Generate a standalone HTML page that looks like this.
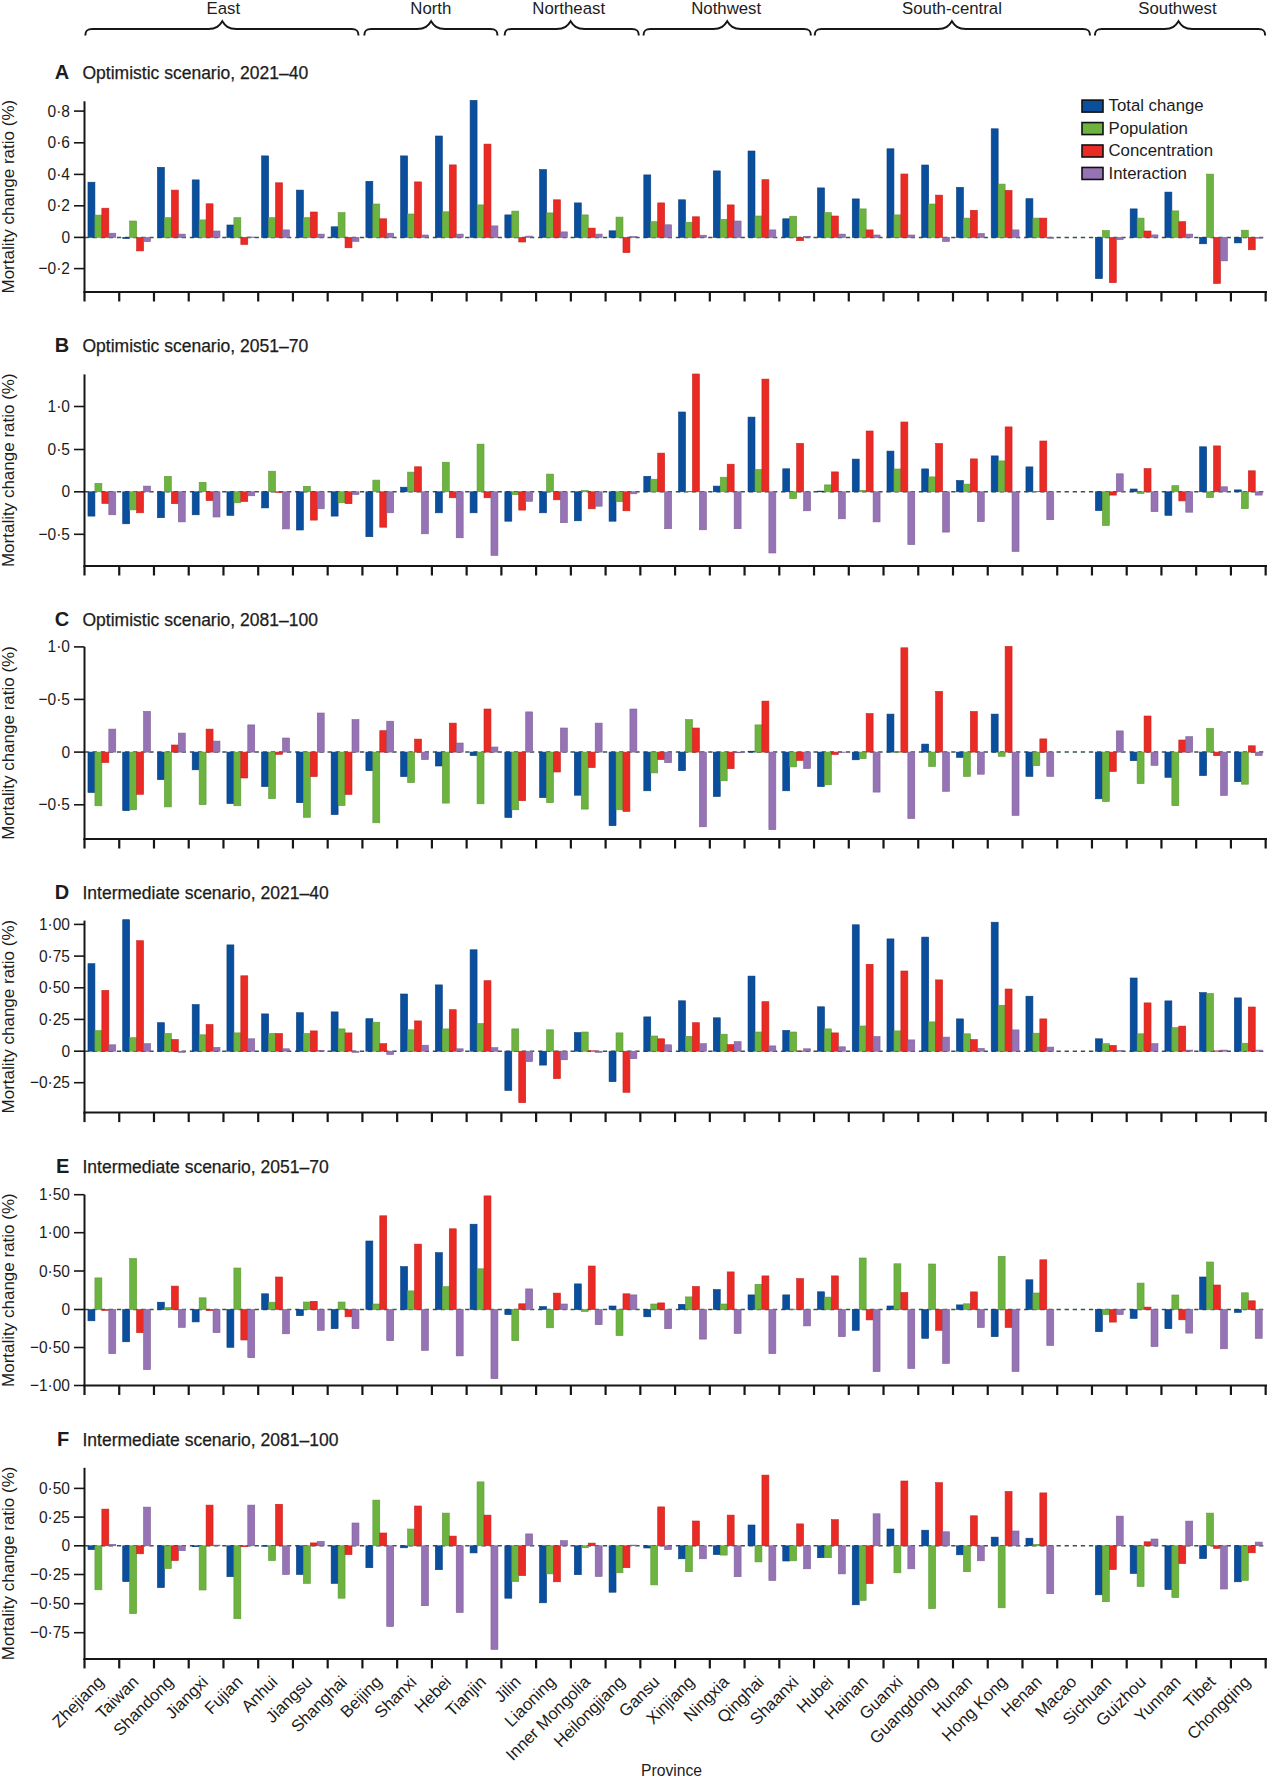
<!DOCTYPE html><html><head><meta charset="utf-8"><title>Mortality change ratio</title>
<style>html,body{margin:0;padding:0;background:#fff;width:1267px;height:1777px;overflow:hidden}svg{display:block}text{font-family:"Liberation Sans", sans-serif;fill:#1c1c1c}</style></head><body>
<svg width="1267" height="1777" viewBox="0 0 1267 1777">
<rect x="0" y="0" width="1267" height="1777" fill="#fff"/>
<path d="M85.3,35.5 C85.3,30.5 87.3,29 92.3,29 L208.3,29 C216.3,29 219.3,26 222.3,21.2 C225.3,26 228.3,29 236.3,29 L351.5,29 C356.5,29 358.5,30.5 358.5,35.5" fill="none" stroke="#161616" stroke-width="2"/>
<text x="223.3" y="14" font-size="16.8" text-anchor="middle">East</text>
<path d="M364.3,35.5 C364.3,30.5 366.3,29 371.3,29 L417.1,29 C425.1,29 428.1,26 431.1,21.2 C434.1,26 437.1,29 445.1,29 L490.5,29 C495.5,29 497.5,30.5 497.5,35.5" fill="none" stroke="#161616" stroke-width="2"/>
<text x="430.8" y="14" font-size="16.8" text-anchor="middle">North</text>
<path d="M504.6,35.5 C504.6,30.5 506.6,29 511.6,29 L556.6,29 C564.6,29 567.6,26 570.6,21.2 C573.6,26 576.6,29 584.6,29 L631.8,29 C636.8,29 638.8,30.5 638.8,35.5" fill="none" stroke="#161616" stroke-width="2"/>
<text x="568.7" y="14" font-size="16.8" text-anchor="middle">Northeast</text>
<path d="M643.5,35.5 C643.5,30.5 645.5,29 650.5,29 L713.2,29 C721.2,29 724.2,26 727.2,21.2 C730.2,26 733.2,29 741.2,29 L803.9,29 C808.9,29 810.9,30.5 810.9,35.5" fill="none" stroke="#161616" stroke-width="2"/>
<text x="726.2" y="14" font-size="16.8" text-anchor="middle">Nothwest</text>
<path d="M814.7,35.5 C814.7,30.5 816.7,29 821.7,29 L937.9,29 C945.9,29 948.9,26 951.9,21.2 C954.9,26 957.9,29 965.9,29 L1083,29 C1088,29 1090,30.5 1090,35.5" fill="none" stroke="#161616" stroke-width="2"/>
<text x="952" y="14" font-size="16.8" text-anchor="middle">South-central</text>
<path d="M1094.9,35.5 C1094.9,30.5 1096.9,29 1101.9,29 L1164.5,29 C1172.5,29 1175.5,26 1178.5,21.2 C1181.5,26 1184.5,29 1192.5,29 L1258.2,29 C1263.2,29 1265.2,30.5 1265.2,35.5" fill="none" stroke="#161616" stroke-width="2"/>
<text x="1177.5" y="14" font-size="16.8" text-anchor="middle">Southwest</text>
<text x="69.3" y="79" font-size="20" font-weight="bold" text-anchor="end">A</text>
<text x="82.5" y="79" font-size="17.5" stroke="#1c1c1c" stroke-width="0.25">Optimistic scenario, 2021–40</text>
<text transform="translate(14,196.65) rotate(-90)" font-size="17" text-anchor="middle">Mortality change ratio (%)</text>
<line x1="84.5" y1="237.4" x2="1265" y2="237.4" stroke="#3f5052" stroke-width="1.5" stroke-dasharray="4.3 3.8"/>
<rect x="87.97" y="182.2" width="6.95" height="55.2" fill="#0a4f9e" stroke="#073d7c" stroke-width="0.6"/>
<rect x="94.92" y="215.1" width="6.95" height="22.3" fill="#6cb33f" stroke="#5c9a36" stroke-width="0.6"/>
<rect x="101.87" y="208.2" width="6.95" height="29.2" fill="#ea2a24" stroke="#c9221d" stroke-width="0.6"/>
<rect x="108.82" y="233.2" width="6.95" height="4.2" fill="#9673b5" stroke="#7d6196" stroke-width="0.6"/>
<rect x="122.71" y="237.4" width="6.95" height="1.1" fill="#0a4f9e" stroke="#073d7c" stroke-width="0.6"/>
<rect x="129.66" y="221" width="6.95" height="16.4" fill="#6cb33f" stroke="#5c9a36" stroke-width="0.6"/>
<rect x="136.61" y="237.4" width="6.95" height="13.5" fill="#ea2a24" stroke="#c9221d" stroke-width="0.6"/>
<rect x="143.56" y="237.4" width="6.95" height="4.2" fill="#9673b5" stroke="#7d6196" stroke-width="0.6"/>
<rect x="157.45" y="167.3" width="6.95" height="70.1" fill="#0a4f9e" stroke="#073d7c" stroke-width="0.6"/>
<rect x="164.4" y="217.7" width="6.95" height="19.7" fill="#6cb33f" stroke="#5c9a36" stroke-width="0.6"/>
<rect x="171.35" y="190.1" width="6.95" height="47.3" fill="#ea2a24" stroke="#c9221d" stroke-width="0.6"/>
<rect x="178.3" y="234.1" width="6.95" height="3.3" fill="#9673b5" stroke="#7d6196" stroke-width="0.6"/>
<rect x="192.19" y="179.9" width="6.95" height="57.5" fill="#0a4f9e" stroke="#073d7c" stroke-width="0.6"/>
<rect x="199.14" y="219.9" width="6.95" height="17.5" fill="#6cb33f" stroke="#5c9a36" stroke-width="0.6"/>
<rect x="206.09" y="203.8" width="6.95" height="33.6" fill="#ea2a24" stroke="#c9221d" stroke-width="0.6"/>
<rect x="213.04" y="231" width="6.95" height="6.4" fill="#9673b5" stroke="#7d6196" stroke-width="0.6"/>
<rect x="226.93" y="225" width="6.95" height="12.4" fill="#0a4f9e" stroke="#073d7c" stroke-width="0.6"/>
<rect x="233.88" y="217.7" width="6.95" height="19.7" fill="#6cb33f" stroke="#5c9a36" stroke-width="0.6"/>
<rect x="240.83" y="237.4" width="6.95" height="7.1" fill="#ea2a24" stroke="#c9221d" stroke-width="0.6"/>
<rect x="247.78" y="237" width="6.95" height="0.4" fill="#9673b5" stroke="#7d6196" stroke-width="0.6"/>
<rect x="261.67" y="155.9" width="6.95" height="81.5" fill="#0a4f9e" stroke="#073d7c" stroke-width="0.6"/>
<rect x="268.62" y="217.7" width="6.95" height="19.7" fill="#6cb33f" stroke="#5c9a36" stroke-width="0.6"/>
<rect x="275.57" y="182.8" width="6.95" height="54.6" fill="#ea2a24" stroke="#c9221d" stroke-width="0.6"/>
<rect x="282.52" y="229.9" width="6.95" height="7.5" fill="#9673b5" stroke="#7d6196" stroke-width="0.6"/>
<rect x="296.41" y="190.1" width="6.95" height="47.3" fill="#0a4f9e" stroke="#073d7c" stroke-width="0.6"/>
<rect x="303.36" y="217.7" width="6.95" height="19.7" fill="#6cb33f" stroke="#5c9a36" stroke-width="0.6"/>
<rect x="310.31" y="212" width="6.95" height="25.4" fill="#ea2a24" stroke="#c9221d" stroke-width="0.6"/>
<rect x="317.26" y="234.1" width="6.95" height="3.3" fill="#9673b5" stroke="#7d6196" stroke-width="0.6"/>
<rect x="331.15" y="226.8" width="6.95" height="10.6" fill="#0a4f9e" stroke="#073d7c" stroke-width="0.6"/>
<rect x="338.1" y="212.6" width="6.95" height="24.8" fill="#6cb33f" stroke="#5c9a36" stroke-width="0.6"/>
<rect x="345.05" y="237.4" width="6.95" height="10.4" fill="#ea2a24" stroke="#c9221d" stroke-width="0.6"/>
<rect x="352" y="237.4" width="6.95" height="4" fill="#9673b5" stroke="#7d6196" stroke-width="0.6"/>
<rect x="365.89" y="181.3" width="6.95" height="56.1" fill="#0a4f9e" stroke="#073d7c" stroke-width="0.6"/>
<rect x="372.84" y="204" width="6.95" height="33.4" fill="#6cb33f" stroke="#5c9a36" stroke-width="0.6"/>
<rect x="379.79" y="218.8" width="6.95" height="18.6" fill="#ea2a24" stroke="#c9221d" stroke-width="0.6"/>
<rect x="386.74" y="233.2" width="6.95" height="4.2" fill="#9673b5" stroke="#7d6196" stroke-width="0.6"/>
<rect x="400.63" y="155.9" width="6.95" height="81.5" fill="#0a4f9e" stroke="#073d7c" stroke-width="0.6"/>
<rect x="407.58" y="214" width="6.95" height="23.4" fill="#6cb33f" stroke="#5c9a36" stroke-width="0.6"/>
<rect x="414.53" y="181.9" width="6.95" height="55.5" fill="#ea2a24" stroke="#c9221d" stroke-width="0.6"/>
<rect x="421.48" y="235" width="6.95" height="2.4" fill="#9673b5" stroke="#7d6196" stroke-width="0.6"/>
<rect x="435.37" y="136" width="6.95" height="101.4" fill="#0a4f9e" stroke="#073d7c" stroke-width="0.6"/>
<rect x="442.32" y="211.8" width="6.95" height="25.6" fill="#6cb33f" stroke="#5c9a36" stroke-width="0.6"/>
<rect x="449.27" y="164.9" width="6.95" height="72.5" fill="#ea2a24" stroke="#c9221d" stroke-width="0.6"/>
<rect x="456.22" y="234.1" width="6.95" height="3.3" fill="#9673b5" stroke="#7d6196" stroke-width="0.6"/>
<rect x="470.11" y="100.4" width="6.95" height="137" fill="#0a4f9e" stroke="#073d7c" stroke-width="0.6"/>
<rect x="477.06" y="204.9" width="6.95" height="32.5" fill="#6cb33f" stroke="#5c9a36" stroke-width="0.6"/>
<rect x="484.01" y="144.1" width="6.95" height="93.3" fill="#ea2a24" stroke="#c9221d" stroke-width="0.6"/>
<rect x="490.96" y="225.9" width="6.95" height="11.5" fill="#9673b5" stroke="#7d6196" stroke-width="0.6"/>
<rect x="504.85" y="214.9" width="6.95" height="22.5" fill="#0a4f9e" stroke="#073d7c" stroke-width="0.6"/>
<rect x="511.8" y="211.1" width="6.95" height="26.3" fill="#6cb33f" stroke="#5c9a36" stroke-width="0.6"/>
<rect x="518.75" y="237.4" width="6.95" height="4.6" fill="#ea2a24" stroke="#c9221d" stroke-width="0.6"/>
<rect x="525.7" y="236.1" width="6.95" height="1.3" fill="#9673b5" stroke="#7d6196" stroke-width="0.6"/>
<rect x="539.59" y="169.6" width="6.95" height="67.8" fill="#0a4f9e" stroke="#073d7c" stroke-width="0.6"/>
<rect x="546.54" y="212.9" width="6.95" height="24.5" fill="#6cb33f" stroke="#5c9a36" stroke-width="0.6"/>
<rect x="553.49" y="199.8" width="6.95" height="37.6" fill="#ea2a24" stroke="#c9221d" stroke-width="0.6"/>
<rect x="560.44" y="231.9" width="6.95" height="5.5" fill="#9673b5" stroke="#7d6196" stroke-width="0.6"/>
<rect x="574.33" y="202.9" width="6.95" height="34.5" fill="#0a4f9e" stroke="#073d7c" stroke-width="0.6"/>
<rect x="581.28" y="214.9" width="6.95" height="22.5" fill="#6cb33f" stroke="#5c9a36" stroke-width="0.6"/>
<rect x="588.23" y="228.1" width="6.95" height="9.3" fill="#ea2a24" stroke="#c9221d" stroke-width="0.6"/>
<rect x="595.18" y="234.1" width="6.95" height="3.3" fill="#9673b5" stroke="#7d6196" stroke-width="0.6"/>
<rect x="609.07" y="230.8" width="6.95" height="6.6" fill="#0a4f9e" stroke="#073d7c" stroke-width="0.6"/>
<rect x="616.02" y="217.1" width="6.95" height="20.3" fill="#6cb33f" stroke="#5c9a36" stroke-width="0.6"/>
<rect x="622.97" y="237.4" width="6.95" height="15.2" fill="#ea2a24" stroke="#c9221d" stroke-width="0.6"/>
<rect x="629.92" y="236.5" width="6.95" height="0.9" fill="#9673b5" stroke="#7d6196" stroke-width="0.6"/>
<rect x="643.81" y="174.9" width="6.95" height="62.5" fill="#0a4f9e" stroke="#073d7c" stroke-width="0.6"/>
<rect x="650.76" y="221.7" width="6.95" height="15.7" fill="#6cb33f" stroke="#5c9a36" stroke-width="0.6"/>
<rect x="657.71" y="202.9" width="6.95" height="34.5" fill="#ea2a24" stroke="#c9221d" stroke-width="0.6"/>
<rect x="664.66" y="224.8" width="6.95" height="12.6" fill="#9673b5" stroke="#7d6196" stroke-width="0.6"/>
<rect x="678.55" y="199.8" width="6.95" height="37.6" fill="#0a4f9e" stroke="#073d7c" stroke-width="0.6"/>
<rect x="685.5" y="222.2" width="6.95" height="15.2" fill="#6cb33f" stroke="#5c9a36" stroke-width="0.6"/>
<rect x="692.45" y="216.8" width="6.95" height="20.6" fill="#ea2a24" stroke="#c9221d" stroke-width="0.6"/>
<rect x="699.4" y="235.2" width="6.95" height="2.2" fill="#9673b5" stroke="#7d6196" stroke-width="0.6"/>
<rect x="713.29" y="170.9" width="6.95" height="66.5" fill="#0a4f9e" stroke="#073d7c" stroke-width="0.6"/>
<rect x="720.24" y="219.3" width="6.95" height="18.1" fill="#6cb33f" stroke="#5c9a36" stroke-width="0.6"/>
<rect x="727.19" y="204.9" width="6.95" height="32.5" fill="#ea2a24" stroke="#c9221d" stroke-width="0.6"/>
<rect x="734.14" y="221" width="6.95" height="16.4" fill="#9673b5" stroke="#7d6196" stroke-width="0.6"/>
<rect x="748.03" y="151" width="6.95" height="86.4" fill="#0a4f9e" stroke="#073d7c" stroke-width="0.6"/>
<rect x="754.98" y="216" width="6.95" height="21.4" fill="#6cb33f" stroke="#5c9a36" stroke-width="0.6"/>
<rect x="761.93" y="179.7" width="6.95" height="57.7" fill="#ea2a24" stroke="#c9221d" stroke-width="0.6"/>
<rect x="768.88" y="229.9" width="6.95" height="7.5" fill="#9673b5" stroke="#7d6196" stroke-width="0.6"/>
<rect x="782.77" y="218.8" width="6.95" height="18.6" fill="#0a4f9e" stroke="#073d7c" stroke-width="0.6"/>
<rect x="789.72" y="216.2" width="6.95" height="21.2" fill="#6cb33f" stroke="#5c9a36" stroke-width="0.6"/>
<rect x="796.67" y="237.4" width="6.95" height="3.3" fill="#ea2a24" stroke="#c9221d" stroke-width="0.6"/>
<rect x="803.62" y="236.3" width="6.95" height="1.1" fill="#9673b5" stroke="#7d6196" stroke-width="0.6"/>
<rect x="817.51" y="187.9" width="6.95" height="49.5" fill="#0a4f9e" stroke="#073d7c" stroke-width="0.6"/>
<rect x="824.46" y="212.6" width="6.95" height="24.8" fill="#6cb33f" stroke="#5c9a36" stroke-width="0.6"/>
<rect x="831.41" y="216" width="6.95" height="21.4" fill="#ea2a24" stroke="#c9221d" stroke-width="0.6"/>
<rect x="838.36" y="234.1" width="6.95" height="3.3" fill="#9673b5" stroke="#7d6196" stroke-width="0.6"/>
<rect x="852.25" y="198.9" width="6.95" height="38.5" fill="#0a4f9e" stroke="#073d7c" stroke-width="0.6"/>
<rect x="859.2" y="208.9" width="6.95" height="28.5" fill="#6cb33f" stroke="#5c9a36" stroke-width="0.6"/>
<rect x="866.15" y="229.9" width="6.95" height="7.5" fill="#ea2a24" stroke="#c9221d" stroke-width="0.6"/>
<rect x="873.1" y="235" width="6.95" height="2.4" fill="#9673b5" stroke="#7d6196" stroke-width="0.6"/>
<rect x="886.99" y="148.8" width="6.95" height="88.6" fill="#0a4f9e" stroke="#073d7c" stroke-width="0.6"/>
<rect x="893.94" y="214.9" width="6.95" height="22.5" fill="#6cb33f" stroke="#5c9a36" stroke-width="0.6"/>
<rect x="900.89" y="174" width="6.95" height="63.4" fill="#ea2a24" stroke="#c9221d" stroke-width="0.6"/>
<rect x="907.84" y="235" width="6.95" height="2.4" fill="#9673b5" stroke="#7d6196" stroke-width="0.6"/>
<rect x="921.73" y="165" width="6.95" height="72.4" fill="#0a4f9e" stroke="#073d7c" stroke-width="0.6"/>
<rect x="928.68" y="204" width="6.95" height="33.4" fill="#6cb33f" stroke="#5c9a36" stroke-width="0.6"/>
<rect x="935.63" y="195.1" width="6.95" height="42.3" fill="#ea2a24" stroke="#c9221d" stroke-width="0.6"/>
<rect x="942.58" y="237.4" width="6.95" height="4.1" fill="#9673b5" stroke="#7d6196" stroke-width="0.6"/>
<rect x="956.47" y="187.4" width="6.95" height="50" fill="#0a4f9e" stroke="#073d7c" stroke-width="0.6"/>
<rect x="963.42" y="218.1" width="6.95" height="19.3" fill="#6cb33f" stroke="#5c9a36" stroke-width="0.6"/>
<rect x="970.37" y="210.3" width="6.95" height="27.1" fill="#ea2a24" stroke="#c9221d" stroke-width="0.6"/>
<rect x="977.32" y="233.5" width="6.95" height="3.9" fill="#9673b5" stroke="#7d6196" stroke-width="0.6"/>
<rect x="991.21" y="128.8" width="6.95" height="108.6" fill="#0a4f9e" stroke="#073d7c" stroke-width="0.6"/>
<rect x="998.16" y="184.1" width="6.95" height="53.3" fill="#6cb33f" stroke="#5c9a36" stroke-width="0.6"/>
<rect x="1005.11" y="190.4" width="6.95" height="47" fill="#ea2a24" stroke="#c9221d" stroke-width="0.6"/>
<rect x="1012.06" y="229.9" width="6.95" height="7.5" fill="#9673b5" stroke="#7d6196" stroke-width="0.6"/>
<rect x="1025.95" y="198.7" width="6.95" height="38.7" fill="#0a4f9e" stroke="#073d7c" stroke-width="0.6"/>
<rect x="1032.9" y="218.1" width="6.95" height="19.3" fill="#6cb33f" stroke="#5c9a36" stroke-width="0.6"/>
<rect x="1039.85" y="218.1" width="6.95" height="19.3" fill="#ea2a24" stroke="#c9221d" stroke-width="0.6"/>
<rect x="1046.8" y="237.4" width="6.95" height="0.8" fill="#9673b5" stroke="#7d6196" stroke-width="0.6"/>
<rect x="1095.43" y="237.4" width="6.95" height="41.2" fill="#0a4f9e" stroke="#073d7c" stroke-width="0.6"/>
<rect x="1102.38" y="230.5" width="6.95" height="6.9" fill="#6cb33f" stroke="#5c9a36" stroke-width="0.6"/>
<rect x="1109.33" y="237.4" width="6.95" height="45.3" fill="#ea2a24" stroke="#c9221d" stroke-width="0.6"/>
<rect x="1116.28" y="237.4" width="6.95" height="2.2" fill="#9673b5" stroke="#7d6196" stroke-width="0.6"/>
<rect x="1130.17" y="208.9" width="6.95" height="28.5" fill="#0a4f9e" stroke="#073d7c" stroke-width="0.6"/>
<rect x="1137.12" y="218.1" width="6.95" height="19.3" fill="#6cb33f" stroke="#5c9a36" stroke-width="0.6"/>
<rect x="1144.07" y="231" width="6.95" height="6.4" fill="#ea2a24" stroke="#c9221d" stroke-width="0.6"/>
<rect x="1151.02" y="234.9" width="6.95" height="2.5" fill="#9673b5" stroke="#7d6196" stroke-width="0.6"/>
<rect x="1164.91" y="192.1" width="6.95" height="45.3" fill="#0a4f9e" stroke="#073d7c" stroke-width="0.6"/>
<rect x="1171.86" y="210.9" width="6.95" height="26.5" fill="#6cb33f" stroke="#5c9a36" stroke-width="0.6"/>
<rect x="1178.81" y="221.7" width="6.95" height="15.7" fill="#ea2a24" stroke="#c9221d" stroke-width="0.6"/>
<rect x="1185.76" y="234.1" width="6.95" height="3.3" fill="#9673b5" stroke="#7d6196" stroke-width="0.6"/>
<rect x="1199.65" y="237.4" width="6.95" height="6.4" fill="#0a4f9e" stroke="#073d7c" stroke-width="0.6"/>
<rect x="1206.6" y="174.1" width="6.95" height="63.3" fill="#6cb33f" stroke="#5c9a36" stroke-width="0.6"/>
<rect x="1213.55" y="237.4" width="6.95" height="46.1" fill="#ea2a24" stroke="#c9221d" stroke-width="0.6"/>
<rect x="1220.5" y="237.4" width="6.95" height="23.5" fill="#9673b5" stroke="#7d6196" stroke-width="0.6"/>
<rect x="1234.39" y="237.4" width="6.95" height="5.5" fill="#0a4f9e" stroke="#073d7c" stroke-width="0.6"/>
<rect x="1241.34" y="230.2" width="6.95" height="7.2" fill="#6cb33f" stroke="#5c9a36" stroke-width="0.6"/>
<rect x="1248.29" y="237.4" width="6.95" height="12.4" fill="#ea2a24" stroke="#c9221d" stroke-width="0.6"/>
<rect x="1255.24" y="237.4" width="6.95" height="0.8" fill="#9673b5" stroke="#7d6196" stroke-width="0.6"/>
<line x1="84.5" y1="101.3" x2="84.5" y2="293" stroke="#161616" stroke-width="2"/>
<line x1="74" y1="111.1" x2="84.5" y2="111.1" stroke="#161616" stroke-width="1.6"/>
<text x="70" y="116.6" font-size="17.2" text-anchor="end" textLength="22.41" lengthAdjust="spacingAndGlyphs">0·8</text>
<line x1="74" y1="142.8" x2="84.5" y2="142.8" stroke="#161616" stroke-width="1.6"/>
<text x="70" y="148.3" font-size="17.2" text-anchor="end" textLength="22.41" lengthAdjust="spacingAndGlyphs">0·6</text>
<line x1="74" y1="174.4" x2="84.5" y2="174.4" stroke="#161616" stroke-width="1.6"/>
<text x="70" y="179.9" font-size="17.2" text-anchor="end" textLength="22.41" lengthAdjust="spacingAndGlyphs">0·4</text>
<line x1="74" y1="205.8" x2="84.5" y2="205.8" stroke="#161616" stroke-width="1.6"/>
<text x="70" y="211.3" font-size="17.2" text-anchor="end" textLength="22.41" lengthAdjust="spacingAndGlyphs">0·2</text>
<line x1="74" y1="237.4" x2="84.5" y2="237.4" stroke="#161616" stroke-width="1.6"/>
<text x="70" y="242.9" font-size="17.2" text-anchor="end" textLength="8.62" lengthAdjust="spacingAndGlyphs">0</text>
<line x1="74" y1="268.6" x2="84.5" y2="268.6" stroke="#161616" stroke-width="1.6"/>
<text x="70" y="274.1" font-size="17.2" text-anchor="end" textLength="31.46" lengthAdjust="spacingAndGlyphs">−0·2</text>
<line x1="83.5" y1="292" x2="1267" y2="292" stroke="#161616" stroke-width="2"/>
<line x1="84.5" y1="292" x2="84.5" y2="301.5" stroke="#161616" stroke-width="2.2"/>
<line x1="119.24" y1="292" x2="119.24" y2="301.5" stroke="#161616" stroke-width="2.2"/>
<line x1="153.98" y1="292" x2="153.98" y2="301.5" stroke="#161616" stroke-width="2.2"/>
<line x1="188.72" y1="292" x2="188.72" y2="301.5" stroke="#161616" stroke-width="2.2"/>
<line x1="223.46" y1="292" x2="223.46" y2="301.5" stroke="#161616" stroke-width="2.2"/>
<line x1="258.2" y1="292" x2="258.2" y2="301.5" stroke="#161616" stroke-width="2.2"/>
<line x1="292.94" y1="292" x2="292.94" y2="301.5" stroke="#161616" stroke-width="2.2"/>
<line x1="327.68" y1="292" x2="327.68" y2="301.5" stroke="#161616" stroke-width="2.2"/>
<line x1="362.42" y1="292" x2="362.42" y2="301.5" stroke="#161616" stroke-width="2.2"/>
<line x1="397.16" y1="292" x2="397.16" y2="301.5" stroke="#161616" stroke-width="2.2"/>
<line x1="431.9" y1="292" x2="431.9" y2="301.5" stroke="#161616" stroke-width="2.2"/>
<line x1="466.64" y1="292" x2="466.64" y2="301.5" stroke="#161616" stroke-width="2.2"/>
<line x1="501.38" y1="292" x2="501.38" y2="301.5" stroke="#161616" stroke-width="2.2"/>
<line x1="536.12" y1="292" x2="536.12" y2="301.5" stroke="#161616" stroke-width="2.2"/>
<line x1="570.86" y1="292" x2="570.86" y2="301.5" stroke="#161616" stroke-width="2.2"/>
<line x1="605.6" y1="292" x2="605.6" y2="301.5" stroke="#161616" stroke-width="2.2"/>
<line x1="640.34" y1="292" x2="640.34" y2="301.5" stroke="#161616" stroke-width="2.2"/>
<line x1="675.08" y1="292" x2="675.08" y2="301.5" stroke="#161616" stroke-width="2.2"/>
<line x1="709.82" y1="292" x2="709.82" y2="301.5" stroke="#161616" stroke-width="2.2"/>
<line x1="744.56" y1="292" x2="744.56" y2="301.5" stroke="#161616" stroke-width="2.2"/>
<line x1="779.3" y1="292" x2="779.3" y2="301.5" stroke="#161616" stroke-width="2.2"/>
<line x1="814.04" y1="292" x2="814.04" y2="301.5" stroke="#161616" stroke-width="2.2"/>
<line x1="848.78" y1="292" x2="848.78" y2="301.5" stroke="#161616" stroke-width="2.2"/>
<line x1="883.52" y1="292" x2="883.52" y2="301.5" stroke="#161616" stroke-width="2.2"/>
<line x1="918.26" y1="292" x2="918.26" y2="301.5" stroke="#161616" stroke-width="2.2"/>
<line x1="953" y1="292" x2="953" y2="301.5" stroke="#161616" stroke-width="2.2"/>
<line x1="987.74" y1="292" x2="987.74" y2="301.5" stroke="#161616" stroke-width="2.2"/>
<line x1="1022.48" y1="292" x2="1022.48" y2="301.5" stroke="#161616" stroke-width="2.2"/>
<line x1="1057.22" y1="292" x2="1057.22" y2="301.5" stroke="#161616" stroke-width="2.2"/>
<line x1="1091.96" y1="292" x2="1091.96" y2="301.5" stroke="#161616" stroke-width="2.2"/>
<line x1="1126.7" y1="292" x2="1126.7" y2="301.5" stroke="#161616" stroke-width="2.2"/>
<line x1="1161.44" y1="292" x2="1161.44" y2="301.5" stroke="#161616" stroke-width="2.2"/>
<line x1="1196.18" y1="292" x2="1196.18" y2="301.5" stroke="#161616" stroke-width="2.2"/>
<line x1="1230.92" y1="292" x2="1230.92" y2="301.5" stroke="#161616" stroke-width="2.2"/>
<line x1="1265.66" y1="292" x2="1265.66" y2="301.5" stroke="#161616" stroke-width="2.2"/>
<text x="69.3" y="351.8" font-size="20" font-weight="bold" text-anchor="end">B</text>
<text x="82.5" y="351.8" font-size="17.5" stroke="#1c1c1c" stroke-width="0.25">Optimistic scenario, 2051–70</text>
<text transform="translate(14,470.2) rotate(-90)" font-size="17" text-anchor="middle">Mortality change ratio (%)</text>
<line x1="84.5" y1="491.8" x2="1265" y2="491.8" stroke="#3f5052" stroke-width="1.5" stroke-dasharray="4.3 3.8"/>
<rect x="87.97" y="491.8" width="6.95" height="24.3" fill="#0a4f9e" stroke="#073d7c" stroke-width="0.6"/>
<rect x="94.92" y="483.4" width="6.95" height="8.4" fill="#6cb33f" stroke="#5c9a36" stroke-width="0.6"/>
<rect x="101.87" y="491.8" width="6.95" height="11.7" fill="#ea2a24" stroke="#c9221d" stroke-width="0.6"/>
<rect x="108.82" y="491.8" width="6.95" height="23" fill="#9673b5" stroke="#7d6196" stroke-width="0.6"/>
<rect x="122.71" y="491.8" width="6.95" height="32" fill="#0a4f9e" stroke="#073d7c" stroke-width="0.6"/>
<rect x="129.66" y="491.8" width="6.95" height="18.1" fill="#6cb33f" stroke="#5c9a36" stroke-width="0.6"/>
<rect x="136.61" y="491.8" width="6.95" height="21" fill="#ea2a24" stroke="#c9221d" stroke-width="0.6"/>
<rect x="143.56" y="486.1" width="6.95" height="5.7" fill="#9673b5" stroke="#7d6196" stroke-width="0.6"/>
<rect x="157.45" y="491.8" width="6.95" height="25.9" fill="#0a4f9e" stroke="#073d7c" stroke-width="0.6"/>
<rect x="164.4" y="476.3" width="6.95" height="15.5" fill="#6cb33f" stroke="#5c9a36" stroke-width="0.6"/>
<rect x="171.35" y="491.8" width="6.95" height="11.9" fill="#ea2a24" stroke="#c9221d" stroke-width="0.6"/>
<rect x="178.3" y="491.8" width="6.95" height="30.1" fill="#9673b5" stroke="#7d6196" stroke-width="0.6"/>
<rect x="192.19" y="491.8" width="6.95" height="23" fill="#0a4f9e" stroke="#073d7c" stroke-width="0.6"/>
<rect x="199.14" y="482.3" width="6.95" height="9.5" fill="#6cb33f" stroke="#5c9a36" stroke-width="0.6"/>
<rect x="206.09" y="491.8" width="6.95" height="8.8" fill="#ea2a24" stroke="#c9221d" stroke-width="0.6"/>
<rect x="213.04" y="491.8" width="6.95" height="25.2" fill="#9673b5" stroke="#7d6196" stroke-width="0.6"/>
<rect x="226.93" y="491.8" width="6.95" height="23.6" fill="#0a4f9e" stroke="#073d7c" stroke-width="0.6"/>
<rect x="233.88" y="491.8" width="6.95" height="11" fill="#6cb33f" stroke="#5c9a36" stroke-width="0.6"/>
<rect x="240.83" y="491.8" width="6.95" height="9.7" fill="#ea2a24" stroke="#c9221d" stroke-width="0.6"/>
<rect x="247.78" y="491.8" width="6.95" height="4" fill="#9673b5" stroke="#7d6196" stroke-width="0.6"/>
<rect x="261.67" y="491.8" width="6.95" height="16.1" fill="#0a4f9e" stroke="#073d7c" stroke-width="0.6"/>
<rect x="268.62" y="471.2" width="6.95" height="20.6" fill="#6cb33f" stroke="#5c9a36" stroke-width="0.6"/>
<rect x="275.57" y="491.8" width="6.95" height="0.7" fill="#ea2a24" stroke="#c9221d" stroke-width="0.6"/>
<rect x="282.52" y="491.8" width="6.95" height="37.1" fill="#9673b5" stroke="#7d6196" stroke-width="0.6"/>
<rect x="296.41" y="491.8" width="6.95" height="38.2" fill="#0a4f9e" stroke="#073d7c" stroke-width="0.6"/>
<rect x="303.36" y="486.3" width="6.95" height="5.5" fill="#6cb33f" stroke="#5c9a36" stroke-width="0.6"/>
<rect x="310.31" y="491.8" width="6.95" height="28.3" fill="#ea2a24" stroke="#c9221d" stroke-width="0.6"/>
<rect x="317.26" y="491.8" width="6.95" height="17" fill="#9673b5" stroke="#7d6196" stroke-width="0.6"/>
<rect x="331.15" y="491.8" width="6.95" height="24.3" fill="#0a4f9e" stroke="#073d7c" stroke-width="0.6"/>
<rect x="338.1" y="491.8" width="6.95" height="11" fill="#6cb33f" stroke="#5c9a36" stroke-width="0.6"/>
<rect x="345.05" y="491.8" width="6.95" height="11.9" fill="#ea2a24" stroke="#c9221d" stroke-width="0.6"/>
<rect x="352" y="491.8" width="6.95" height="2.7" fill="#9673b5" stroke="#7d6196" stroke-width="0.6"/>
<rect x="365.89" y="491.8" width="6.95" height="44.9" fill="#0a4f9e" stroke="#073d7c" stroke-width="0.6"/>
<rect x="372.84" y="480.1" width="6.95" height="11.7" fill="#6cb33f" stroke="#5c9a36" stroke-width="0.6"/>
<rect x="379.79" y="491.8" width="6.95" height="35.4" fill="#ea2a24" stroke="#c9221d" stroke-width="0.6"/>
<rect x="386.74" y="491.8" width="6.95" height="21" fill="#9673b5" stroke="#7d6196" stroke-width="0.6"/>
<rect x="400.63" y="487.2" width="6.95" height="4.6" fill="#0a4f9e" stroke="#073d7c" stroke-width="0.6"/>
<rect x="407.58" y="472.1" width="6.95" height="19.7" fill="#6cb33f" stroke="#5c9a36" stroke-width="0.6"/>
<rect x="414.53" y="466.8" width="6.95" height="25" fill="#ea2a24" stroke="#c9221d" stroke-width="0.6"/>
<rect x="421.48" y="491.8" width="6.95" height="42" fill="#9673b5" stroke="#7d6196" stroke-width="0.6"/>
<rect x="435.37" y="491.8" width="6.95" height="21" fill="#0a4f9e" stroke="#073d7c" stroke-width="0.6"/>
<rect x="442.32" y="462.2" width="6.95" height="29.6" fill="#6cb33f" stroke="#5c9a36" stroke-width="0.6"/>
<rect x="449.27" y="491.8" width="6.95" height="6" fill="#ea2a24" stroke="#c9221d" stroke-width="0.6"/>
<rect x="456.22" y="491.8" width="6.95" height="46" fill="#9673b5" stroke="#7d6196" stroke-width="0.6"/>
<rect x="470.11" y="491.8" width="6.95" height="21" fill="#0a4f9e" stroke="#073d7c" stroke-width="0.6"/>
<rect x="477.06" y="444.1" width="6.95" height="47.7" fill="#6cb33f" stroke="#5c9a36" stroke-width="0.6"/>
<rect x="484.01" y="491.8" width="6.95" height="6" fill="#ea2a24" stroke="#c9221d" stroke-width="0.6"/>
<rect x="490.96" y="491.8" width="6.95" height="63.6" fill="#9673b5" stroke="#7d6196" stroke-width="0.6"/>
<rect x="504.85" y="491.8" width="6.95" height="29.4" fill="#0a4f9e" stroke="#073d7c" stroke-width="0.6"/>
<rect x="511.8" y="491.8" width="6.95" height="2.9" fill="#6cb33f" stroke="#5c9a36" stroke-width="0.6"/>
<rect x="518.75" y="491.8" width="6.95" height="18.3" fill="#ea2a24" stroke="#c9221d" stroke-width="0.6"/>
<rect x="525.7" y="491.8" width="6.95" height="9.5" fill="#9673b5" stroke="#7d6196" stroke-width="0.6"/>
<rect x="539.59" y="491.8" width="6.95" height="21" fill="#0a4f9e" stroke="#073d7c" stroke-width="0.6"/>
<rect x="546.54" y="474.1" width="6.95" height="17.7" fill="#6cb33f" stroke="#5c9a36" stroke-width="0.6"/>
<rect x="553.49" y="491.8" width="6.95" height="8" fill="#ea2a24" stroke="#c9221d" stroke-width="0.6"/>
<rect x="560.44" y="491.8" width="6.95" height="30.9" fill="#9673b5" stroke="#7d6196" stroke-width="0.6"/>
<rect x="574.33" y="491.8" width="6.95" height="29" fill="#0a4f9e" stroke="#073d7c" stroke-width="0.6"/>
<rect x="581.28" y="490.5" width="6.95" height="1.3" fill="#6cb33f" stroke="#5c9a36" stroke-width="0.6"/>
<rect x="588.23" y="491.8" width="6.95" height="17" fill="#ea2a24" stroke="#c9221d" stroke-width="0.6"/>
<rect x="595.18" y="491.8" width="6.95" height="14.4" fill="#9673b5" stroke="#7d6196" stroke-width="0.6"/>
<rect x="609.07" y="491.8" width="6.95" height="29.4" fill="#0a4f9e" stroke="#073d7c" stroke-width="0.6"/>
<rect x="616.02" y="491.8" width="6.95" height="9.9" fill="#6cb33f" stroke="#5c9a36" stroke-width="0.6"/>
<rect x="622.97" y="491.8" width="6.95" height="19" fill="#ea2a24" stroke="#c9221d" stroke-width="0.6"/>
<rect x="629.92" y="491.8" width="6.95" height="2" fill="#9673b5" stroke="#7d6196" stroke-width="0.6"/>
<rect x="643.81" y="476.3" width="6.95" height="15.5" fill="#0a4f9e" stroke="#073d7c" stroke-width="0.6"/>
<rect x="650.76" y="479.2" width="6.95" height="12.6" fill="#6cb33f" stroke="#5c9a36" stroke-width="0.6"/>
<rect x="657.71" y="453.1" width="6.95" height="38.7" fill="#ea2a24" stroke="#c9221d" stroke-width="0.6"/>
<rect x="664.66" y="491.8" width="6.95" height="36.9" fill="#9673b5" stroke="#7d6196" stroke-width="0.6"/>
<rect x="678.55" y="412" width="6.95" height="79.8" fill="#0a4f9e" stroke="#073d7c" stroke-width="0.6"/>
<rect x="685.5" y="491.5" width="6.95" height="0.3" fill="#6cb33f" stroke="#5c9a36" stroke-width="0.6"/>
<rect x="692.45" y="374" width="6.95" height="117.8" fill="#ea2a24" stroke="#c9221d" stroke-width="0.6"/>
<rect x="699.4" y="491.8" width="6.95" height="38" fill="#9673b5" stroke="#7d6196" stroke-width="0.6"/>
<rect x="713.29" y="486.1" width="6.95" height="5.7" fill="#0a4f9e" stroke="#073d7c" stroke-width="0.6"/>
<rect x="720.24" y="477.2" width="6.95" height="14.6" fill="#6cb33f" stroke="#5c9a36" stroke-width="0.6"/>
<rect x="727.19" y="464.2" width="6.95" height="27.6" fill="#ea2a24" stroke="#c9221d" stroke-width="0.6"/>
<rect x="734.14" y="491.8" width="6.95" height="36.9" fill="#9673b5" stroke="#7d6196" stroke-width="0.6"/>
<rect x="748.03" y="417.1" width="6.95" height="74.7" fill="#0a4f9e" stroke="#073d7c" stroke-width="0.6"/>
<rect x="754.98" y="469.5" width="6.95" height="22.3" fill="#6cb33f" stroke="#5c9a36" stroke-width="0.6"/>
<rect x="761.93" y="379.1" width="6.95" height="112.7" fill="#ea2a24" stroke="#c9221d" stroke-width="0.6"/>
<rect x="768.88" y="491.8" width="6.95" height="61.2" fill="#9673b5" stroke="#7d6196" stroke-width="0.6"/>
<rect x="782.77" y="468.8" width="6.95" height="23" fill="#0a4f9e" stroke="#073d7c" stroke-width="0.6"/>
<rect x="789.72" y="491.8" width="6.95" height="6.9" fill="#6cb33f" stroke="#5c9a36" stroke-width="0.6"/>
<rect x="796.67" y="443.4" width="6.95" height="48.4" fill="#ea2a24" stroke="#c9221d" stroke-width="0.6"/>
<rect x="803.62" y="491.8" width="6.95" height="19" fill="#9673b5" stroke="#7d6196" stroke-width="0.6"/>
<rect x="817.51" y="491.1" width="6.95" height="0.7" fill="#0a4f9e" stroke="#073d7c" stroke-width="0.6"/>
<rect x="824.46" y="484.9" width="6.95" height="6.9" fill="#6cb33f" stroke="#5c9a36" stroke-width="0.6"/>
<rect x="831.41" y="471.9" width="6.95" height="19.9" fill="#ea2a24" stroke="#c9221d" stroke-width="0.6"/>
<rect x="838.36" y="491.8" width="6.95" height="27" fill="#9673b5" stroke="#7d6196" stroke-width="0.6"/>
<rect x="852.25" y="459.1" width="6.95" height="32.7" fill="#0a4f9e" stroke="#073d7c" stroke-width="0.6"/>
<rect x="859.2" y="490.3" width="6.95" height="1.5" fill="#6cb33f" stroke="#5c9a36" stroke-width="0.6"/>
<rect x="866.15" y="431" width="6.95" height="60.8" fill="#ea2a24" stroke="#c9221d" stroke-width="0.6"/>
<rect x="873.1" y="491.8" width="6.95" height="30.1" fill="#9673b5" stroke="#7d6196" stroke-width="0.6"/>
<rect x="886.99" y="451.1" width="6.95" height="40.7" fill="#0a4f9e" stroke="#073d7c" stroke-width="0.6"/>
<rect x="893.94" y="469" width="6.95" height="22.8" fill="#6cb33f" stroke="#5c9a36" stroke-width="0.6"/>
<rect x="900.89" y="422" width="6.95" height="69.8" fill="#ea2a24" stroke="#c9221d" stroke-width="0.6"/>
<rect x="907.84" y="491.8" width="6.95" height="52.8" fill="#9673b5" stroke="#7d6196" stroke-width="0.6"/>
<rect x="921.73" y="468.9" width="6.95" height="22.9" fill="#0a4f9e" stroke="#073d7c" stroke-width="0.6"/>
<rect x="928.68" y="476.9" width="6.95" height="14.9" fill="#6cb33f" stroke="#5c9a36" stroke-width="0.6"/>
<rect x="935.63" y="443.5" width="6.95" height="48.3" fill="#ea2a24" stroke="#c9221d" stroke-width="0.6"/>
<rect x="942.58" y="491.8" width="6.95" height="40.3" fill="#9673b5" stroke="#7d6196" stroke-width="0.6"/>
<rect x="956.47" y="480.5" width="6.95" height="11.3" fill="#0a4f9e" stroke="#073d7c" stroke-width="0.6"/>
<rect x="963.42" y="484.1" width="6.95" height="7.7" fill="#6cb33f" stroke="#5c9a36" stroke-width="0.6"/>
<rect x="970.37" y="458.9" width="6.95" height="32.9" fill="#ea2a24" stroke="#c9221d" stroke-width="0.6"/>
<rect x="977.32" y="491.8" width="6.95" height="29.8" fill="#9673b5" stroke="#7d6196" stroke-width="0.6"/>
<rect x="991.21" y="455.9" width="6.95" height="35.9" fill="#0a4f9e" stroke="#073d7c" stroke-width="0.6"/>
<rect x="998.16" y="460.9" width="6.95" height="30.9" fill="#6cb33f" stroke="#5c9a36" stroke-width="0.6"/>
<rect x="1005.11" y="426.9" width="6.95" height="64.9" fill="#ea2a24" stroke="#c9221d" stroke-width="0.6"/>
<rect x="1012.06" y="491.8" width="6.95" height="59.7" fill="#9673b5" stroke="#7d6196" stroke-width="0.6"/>
<rect x="1025.95" y="466.9" width="6.95" height="24.9" fill="#0a4f9e" stroke="#073d7c" stroke-width="0.6"/>
<rect x="1032.9" y="491.3" width="6.95" height="0.5" fill="#6cb33f" stroke="#5c9a36" stroke-width="0.6"/>
<rect x="1039.85" y="441" width="6.95" height="50.8" fill="#ea2a24" stroke="#c9221d" stroke-width="0.6"/>
<rect x="1046.8" y="491.8" width="6.95" height="27.9" fill="#9673b5" stroke="#7d6196" stroke-width="0.6"/>
<rect x="1095.43" y="491.8" width="6.95" height="18.8" fill="#0a4f9e" stroke="#073d7c" stroke-width="0.6"/>
<rect x="1102.38" y="491.8" width="6.95" height="33.7" fill="#6cb33f" stroke="#5c9a36" stroke-width="0.6"/>
<rect x="1109.33" y="491.8" width="6.95" height="3.3" fill="#ea2a24" stroke="#c9221d" stroke-width="0.6"/>
<rect x="1116.28" y="473.8" width="6.95" height="18" fill="#9673b5" stroke="#7d6196" stroke-width="0.6"/>
<rect x="1130.17" y="489" width="6.95" height="2.8" fill="#0a4f9e" stroke="#073d7c" stroke-width="0.6"/>
<rect x="1137.12" y="491.8" width="6.95" height="1.7" fill="#6cb33f" stroke="#5c9a36" stroke-width="0.6"/>
<rect x="1144.07" y="468.6" width="6.95" height="23.2" fill="#ea2a24" stroke="#c9221d" stroke-width="0.6"/>
<rect x="1151.02" y="491.8" width="6.95" height="19.9" fill="#9673b5" stroke="#7d6196" stroke-width="0.6"/>
<rect x="1164.91" y="491.8" width="6.95" height="23.5" fill="#0a4f9e" stroke="#073d7c" stroke-width="0.6"/>
<rect x="1171.86" y="485.7" width="6.95" height="6.1" fill="#6cb33f" stroke="#5c9a36" stroke-width="0.6"/>
<rect x="1178.81" y="491.8" width="6.95" height="9.1" fill="#ea2a24" stroke="#c9221d" stroke-width="0.6"/>
<rect x="1185.76" y="491.8" width="6.95" height="20.4" fill="#9673b5" stroke="#7d6196" stroke-width="0.6"/>
<rect x="1199.65" y="446.8" width="6.95" height="45" fill="#0a4f9e" stroke="#073d7c" stroke-width="0.6"/>
<rect x="1206.6" y="491.8" width="6.95" height="5.8" fill="#6cb33f" stroke="#5c9a36" stroke-width="0.6"/>
<rect x="1213.55" y="445.9" width="6.95" height="45.9" fill="#ea2a24" stroke="#c9221d" stroke-width="0.6"/>
<rect x="1220.5" y="486.8" width="6.95" height="5" fill="#9673b5" stroke="#7d6196" stroke-width="0.6"/>
<rect x="1234.39" y="489.9" width="6.95" height="1.9" fill="#0a4f9e" stroke="#073d7c" stroke-width="0.6"/>
<rect x="1241.34" y="491.8" width="6.95" height="16.9" fill="#6cb33f" stroke="#5c9a36" stroke-width="0.6"/>
<rect x="1248.29" y="470.8" width="6.95" height="21" fill="#ea2a24" stroke="#c9221d" stroke-width="0.6"/>
<rect x="1255.24" y="491.8" width="6.95" height="3.3" fill="#9673b5" stroke="#7d6196" stroke-width="0.6"/>
<line x1="84.5" y1="374.4" x2="84.5" y2="567" stroke="#161616" stroke-width="2"/>
<line x1="74" y1="406.5" x2="84.5" y2="406.5" stroke="#161616" stroke-width="1.6"/>
<text x="70" y="412" font-size="17.2" text-anchor="end" textLength="22.41" lengthAdjust="spacingAndGlyphs">1·0</text>
<line x1="74" y1="449.5" x2="84.5" y2="449.5" stroke="#161616" stroke-width="1.6"/>
<text x="70" y="455" font-size="17.2" text-anchor="end" textLength="22.41" lengthAdjust="spacingAndGlyphs">0·5</text>
<line x1="74" y1="491.8" x2="84.5" y2="491.8" stroke="#161616" stroke-width="1.6"/>
<text x="70" y="497.3" font-size="17.2" text-anchor="end" textLength="8.62" lengthAdjust="spacingAndGlyphs">0</text>
<line x1="74" y1="534.3" x2="84.5" y2="534.3" stroke="#161616" stroke-width="1.6"/>
<text x="70" y="539.8" font-size="17.2" text-anchor="end" textLength="31.46" lengthAdjust="spacingAndGlyphs">−0·5</text>
<line x1="83.5" y1="566" x2="1267" y2="566" stroke="#161616" stroke-width="2"/>
<line x1="84.5" y1="566" x2="84.5" y2="575.5" stroke="#161616" stroke-width="2.2"/>
<line x1="119.24" y1="566" x2="119.24" y2="575.5" stroke="#161616" stroke-width="2.2"/>
<line x1="153.98" y1="566" x2="153.98" y2="575.5" stroke="#161616" stroke-width="2.2"/>
<line x1="188.72" y1="566" x2="188.72" y2="575.5" stroke="#161616" stroke-width="2.2"/>
<line x1="223.46" y1="566" x2="223.46" y2="575.5" stroke="#161616" stroke-width="2.2"/>
<line x1="258.2" y1="566" x2="258.2" y2="575.5" stroke="#161616" stroke-width="2.2"/>
<line x1="292.94" y1="566" x2="292.94" y2="575.5" stroke="#161616" stroke-width="2.2"/>
<line x1="327.68" y1="566" x2="327.68" y2="575.5" stroke="#161616" stroke-width="2.2"/>
<line x1="362.42" y1="566" x2="362.42" y2="575.5" stroke="#161616" stroke-width="2.2"/>
<line x1="397.16" y1="566" x2="397.16" y2="575.5" stroke="#161616" stroke-width="2.2"/>
<line x1="431.9" y1="566" x2="431.9" y2="575.5" stroke="#161616" stroke-width="2.2"/>
<line x1="466.64" y1="566" x2="466.64" y2="575.5" stroke="#161616" stroke-width="2.2"/>
<line x1="501.38" y1="566" x2="501.38" y2="575.5" stroke="#161616" stroke-width="2.2"/>
<line x1="536.12" y1="566" x2="536.12" y2="575.5" stroke="#161616" stroke-width="2.2"/>
<line x1="570.86" y1="566" x2="570.86" y2="575.5" stroke="#161616" stroke-width="2.2"/>
<line x1="605.6" y1="566" x2="605.6" y2="575.5" stroke="#161616" stroke-width="2.2"/>
<line x1="640.34" y1="566" x2="640.34" y2="575.5" stroke="#161616" stroke-width="2.2"/>
<line x1="675.08" y1="566" x2="675.08" y2="575.5" stroke="#161616" stroke-width="2.2"/>
<line x1="709.82" y1="566" x2="709.82" y2="575.5" stroke="#161616" stroke-width="2.2"/>
<line x1="744.56" y1="566" x2="744.56" y2="575.5" stroke="#161616" stroke-width="2.2"/>
<line x1="779.3" y1="566" x2="779.3" y2="575.5" stroke="#161616" stroke-width="2.2"/>
<line x1="814.04" y1="566" x2="814.04" y2="575.5" stroke="#161616" stroke-width="2.2"/>
<line x1="848.78" y1="566" x2="848.78" y2="575.5" stroke="#161616" stroke-width="2.2"/>
<line x1="883.52" y1="566" x2="883.52" y2="575.5" stroke="#161616" stroke-width="2.2"/>
<line x1="918.26" y1="566" x2="918.26" y2="575.5" stroke="#161616" stroke-width="2.2"/>
<line x1="953" y1="566" x2="953" y2="575.5" stroke="#161616" stroke-width="2.2"/>
<line x1="987.74" y1="566" x2="987.74" y2="575.5" stroke="#161616" stroke-width="2.2"/>
<line x1="1022.48" y1="566" x2="1022.48" y2="575.5" stroke="#161616" stroke-width="2.2"/>
<line x1="1057.22" y1="566" x2="1057.22" y2="575.5" stroke="#161616" stroke-width="2.2"/>
<line x1="1091.96" y1="566" x2="1091.96" y2="575.5" stroke="#161616" stroke-width="2.2"/>
<line x1="1126.7" y1="566" x2="1126.7" y2="575.5" stroke="#161616" stroke-width="2.2"/>
<line x1="1161.44" y1="566" x2="1161.44" y2="575.5" stroke="#161616" stroke-width="2.2"/>
<line x1="1196.18" y1="566" x2="1196.18" y2="575.5" stroke="#161616" stroke-width="2.2"/>
<line x1="1230.92" y1="566" x2="1230.92" y2="575.5" stroke="#161616" stroke-width="2.2"/>
<line x1="1265.66" y1="566" x2="1265.66" y2="575.5" stroke="#161616" stroke-width="2.2"/>
<text x="69.3" y="625.5" font-size="20" font-weight="bold" text-anchor="end">C</text>
<text x="82.5" y="625.5" font-size="17.5" stroke="#1c1c1c" stroke-width="0.25">Optimistic scenario, 2081–100</text>
<text transform="translate(14,742.95) rotate(-90)" font-size="17" text-anchor="middle">Mortality change ratio (%)</text>
<line x1="84.5" y1="752.1" x2="1265" y2="752.1" stroke="#3f5052" stroke-width="1.5" stroke-dasharray="4.3 3.8"/>
<rect x="87.97" y="752.1" width="6.95" height="40.4" fill="#0a4f9e" stroke="#073d7c" stroke-width="0.6"/>
<rect x="94.92" y="752.1" width="6.95" height="53.7" fill="#6cb33f" stroke="#5c9a36" stroke-width="0.6"/>
<rect x="101.87" y="752.1" width="6.95" height="10.4" fill="#ea2a24" stroke="#c9221d" stroke-width="0.6"/>
<rect x="108.82" y="729.1" width="6.95" height="23" fill="#9673b5" stroke="#7d6196" stroke-width="0.6"/>
<rect x="122.71" y="752.1" width="6.95" height="58.6" fill="#0a4f9e" stroke="#073d7c" stroke-width="0.6"/>
<rect x="129.66" y="752.1" width="6.95" height="57.7" fill="#6cb33f" stroke="#5c9a36" stroke-width="0.6"/>
<rect x="136.61" y="752.1" width="6.95" height="42.2" fill="#ea2a24" stroke="#c9221d" stroke-width="0.6"/>
<rect x="143.56" y="711.4" width="6.95" height="40.7" fill="#9673b5" stroke="#7d6196" stroke-width="0.6"/>
<rect x="157.45" y="752.1" width="6.95" height="27.6" fill="#0a4f9e" stroke="#073d7c" stroke-width="0.6"/>
<rect x="164.4" y="752.1" width="6.95" height="54.8" fill="#6cb33f" stroke="#5c9a36" stroke-width="0.6"/>
<rect x="171.35" y="745" width="6.95" height="7.1" fill="#ea2a24" stroke="#c9221d" stroke-width="0.6"/>
<rect x="178.3" y="733.1" width="6.95" height="19" fill="#9673b5" stroke="#7d6196" stroke-width="0.6"/>
<rect x="192.19" y="752.1" width="6.95" height="17.7" fill="#0a4f9e" stroke="#073d7c" stroke-width="0.6"/>
<rect x="199.14" y="752.1" width="6.95" height="52.6" fill="#6cb33f" stroke="#5c9a36" stroke-width="0.6"/>
<rect x="206.09" y="729.1" width="6.95" height="23" fill="#ea2a24" stroke="#c9221d" stroke-width="0.6"/>
<rect x="213.04" y="741.1" width="6.95" height="11" fill="#9673b5" stroke="#7d6196" stroke-width="0.6"/>
<rect x="226.93" y="752.1" width="6.95" height="51.5" fill="#0a4f9e" stroke="#073d7c" stroke-width="0.6"/>
<rect x="233.88" y="752.1" width="6.95" height="53.7" fill="#6cb33f" stroke="#5c9a36" stroke-width="0.6"/>
<rect x="240.83" y="752.1" width="6.95" height="25.9" fill="#ea2a24" stroke="#c9221d" stroke-width="0.6"/>
<rect x="247.78" y="724.9" width="6.95" height="27.2" fill="#9673b5" stroke="#7d6196" stroke-width="0.6"/>
<rect x="261.67" y="752.1" width="6.95" height="34.5" fill="#0a4f9e" stroke="#073d7c" stroke-width="0.6"/>
<rect x="268.62" y="752.1" width="6.95" height="46.6" fill="#6cb33f" stroke="#5c9a36" stroke-width="0.6"/>
<rect x="275.57" y="752.1" width="6.95" height="2.2" fill="#ea2a24" stroke="#c9221d" stroke-width="0.6"/>
<rect x="282.52" y="738" width="6.95" height="14.1" fill="#9673b5" stroke="#7d6196" stroke-width="0.6"/>
<rect x="296.41" y="752.1" width="6.95" height="50.6" fill="#0a4f9e" stroke="#073d7c" stroke-width="0.6"/>
<rect x="303.36" y="752.1" width="6.95" height="65.2" fill="#6cb33f" stroke="#5c9a36" stroke-width="0.6"/>
<rect x="310.31" y="752.1" width="6.95" height="24.5" fill="#ea2a24" stroke="#c9221d" stroke-width="0.6"/>
<rect x="317.26" y="713" width="6.95" height="39.1" fill="#9673b5" stroke="#7d6196" stroke-width="0.6"/>
<rect x="331.15" y="752.1" width="6.95" height="62.5" fill="#0a4f9e" stroke="#073d7c" stroke-width="0.6"/>
<rect x="338.1" y="752.1" width="6.95" height="53.5" fill="#6cb33f" stroke="#5c9a36" stroke-width="0.6"/>
<rect x="345.05" y="752.1" width="6.95" height="42.4" fill="#ea2a24" stroke="#c9221d" stroke-width="0.6"/>
<rect x="352" y="719.6" width="6.95" height="32.5" fill="#9673b5" stroke="#7d6196" stroke-width="0.6"/>
<rect x="365.89" y="752.1" width="6.95" height="18.6" fill="#0a4f9e" stroke="#073d7c" stroke-width="0.6"/>
<rect x="372.84" y="752.1" width="6.95" height="70.7" fill="#6cb33f" stroke="#5c9a36" stroke-width="0.6"/>
<rect x="379.79" y="730.7" width="6.95" height="21.4" fill="#ea2a24" stroke="#c9221d" stroke-width="0.6"/>
<rect x="386.74" y="721.2" width="6.95" height="30.9" fill="#9673b5" stroke="#7d6196" stroke-width="0.6"/>
<rect x="400.63" y="752.1" width="6.95" height="24.5" fill="#0a4f9e" stroke="#073d7c" stroke-width="0.6"/>
<rect x="407.58" y="752.1" width="6.95" height="30.5" fill="#6cb33f" stroke="#5c9a36" stroke-width="0.6"/>
<rect x="414.53" y="739.1" width="6.95" height="13" fill="#ea2a24" stroke="#c9221d" stroke-width="0.6"/>
<rect x="421.48" y="752.1" width="6.95" height="7.5" fill="#9673b5" stroke="#7d6196" stroke-width="0.6"/>
<rect x="435.37" y="752.1" width="6.95" height="13.9" fill="#0a4f9e" stroke="#073d7c" stroke-width="0.6"/>
<rect x="442.32" y="752.1" width="6.95" height="51" fill="#6cb33f" stroke="#5c9a36" stroke-width="0.6"/>
<rect x="449.27" y="723.1" width="6.95" height="29" fill="#ea2a24" stroke="#c9221d" stroke-width="0.6"/>
<rect x="456.22" y="743" width="6.95" height="9.1" fill="#9673b5" stroke="#7d6196" stroke-width="0.6"/>
<rect x="470.11" y="752.1" width="6.95" height="3.5" fill="#0a4f9e" stroke="#073d7c" stroke-width="0.6"/>
<rect x="477.06" y="752.1" width="6.95" height="51.7" fill="#6cb33f" stroke="#5c9a36" stroke-width="0.6"/>
<rect x="484.01" y="709" width="6.95" height="43.1" fill="#ea2a24" stroke="#c9221d" stroke-width="0.6"/>
<rect x="490.96" y="747" width="6.95" height="5.1" fill="#9673b5" stroke="#7d6196" stroke-width="0.6"/>
<rect x="504.85" y="752.1" width="6.95" height="65.4" fill="#0a4f9e" stroke="#073d7c" stroke-width="0.6"/>
<rect x="511.8" y="752.1" width="6.95" height="57.7" fill="#6cb33f" stroke="#5c9a36" stroke-width="0.6"/>
<rect x="518.75" y="752.1" width="6.95" height="48.6" fill="#ea2a24" stroke="#c9221d" stroke-width="0.6"/>
<rect x="525.7" y="711.9" width="6.95" height="40.2" fill="#9673b5" stroke="#7d6196" stroke-width="0.6"/>
<rect x="539.59" y="752.1" width="6.95" height="45.5" fill="#0a4f9e" stroke="#073d7c" stroke-width="0.6"/>
<rect x="546.54" y="752.1" width="6.95" height="50.6" fill="#6cb33f" stroke="#5c9a36" stroke-width="0.6"/>
<rect x="553.49" y="752.1" width="6.95" height="19.9" fill="#ea2a24" stroke="#c9221d" stroke-width="0.6"/>
<rect x="560.44" y="728" width="6.95" height="24.1" fill="#9673b5" stroke="#7d6196" stroke-width="0.6"/>
<rect x="574.33" y="752.1" width="6.95" height="43.1" fill="#0a4f9e" stroke="#073d7c" stroke-width="0.6"/>
<rect x="581.28" y="752.1" width="6.95" height="57" fill="#6cb33f" stroke="#5c9a36" stroke-width="0.6"/>
<rect x="588.23" y="752.1" width="6.95" height="15.5" fill="#ea2a24" stroke="#c9221d" stroke-width="0.6"/>
<rect x="595.18" y="723.1" width="6.95" height="29" fill="#9673b5" stroke="#7d6196" stroke-width="0.6"/>
<rect x="609.07" y="752.1" width="6.95" height="73.6" fill="#0a4f9e" stroke="#073d7c" stroke-width="0.6"/>
<rect x="616.02" y="752.1" width="6.95" height="57.7" fill="#6cb33f" stroke="#5c9a36" stroke-width="0.6"/>
<rect x="622.97" y="752.1" width="6.95" height="59.4" fill="#ea2a24" stroke="#c9221d" stroke-width="0.6"/>
<rect x="629.92" y="709" width="6.95" height="43.1" fill="#9673b5" stroke="#7d6196" stroke-width="0.6"/>
<rect x="643.81" y="752.1" width="6.95" height="38.7" fill="#0a4f9e" stroke="#073d7c" stroke-width="0.6"/>
<rect x="650.76" y="752.1" width="6.95" height="20.8" fill="#6cb33f" stroke="#5c9a36" stroke-width="0.6"/>
<rect x="657.71" y="752.1" width="6.95" height="7.5" fill="#ea2a24" stroke="#c9221d" stroke-width="0.6"/>
<rect x="664.66" y="752.1" width="6.95" height="10.6" fill="#9673b5" stroke="#7d6196" stroke-width="0.6"/>
<rect x="678.55" y="752.1" width="6.95" height="18.6" fill="#0a4f9e" stroke="#073d7c" stroke-width="0.6"/>
<rect x="685.5" y="719.6" width="6.95" height="32.5" fill="#6cb33f" stroke="#5c9a36" stroke-width="0.6"/>
<rect x="692.45" y="728" width="6.95" height="24.1" fill="#ea2a24" stroke="#c9221d" stroke-width="0.6"/>
<rect x="699.4" y="752.1" width="6.95" height="74.7" fill="#9673b5" stroke="#7d6196" stroke-width="0.6"/>
<rect x="713.29" y="752.1" width="6.95" height="44.4" fill="#0a4f9e" stroke="#073d7c" stroke-width="0.6"/>
<rect x="720.24" y="752.1" width="6.95" height="28.7" fill="#6cb33f" stroke="#5c9a36" stroke-width="0.6"/>
<rect x="727.19" y="752.1" width="6.95" height="16.6" fill="#ea2a24" stroke="#c9221d" stroke-width="0.6"/>
<rect x="734.14" y="752.1" width="6.95" height="0.7" fill="#9673b5" stroke="#7d6196" stroke-width="0.6"/>
<rect x="748.03" y="751.2" width="6.95" height="0.9" fill="#0a4f9e" stroke="#073d7c" stroke-width="0.6"/>
<rect x="754.98" y="724.9" width="6.95" height="27.2" fill="#6cb33f" stroke="#5c9a36" stroke-width="0.6"/>
<rect x="761.93" y="701.1" width="6.95" height="51" fill="#ea2a24" stroke="#c9221d" stroke-width="0.6"/>
<rect x="768.88" y="752.1" width="6.95" height="77.6" fill="#9673b5" stroke="#7d6196" stroke-width="0.6"/>
<rect x="782.77" y="752.1" width="6.95" height="38.7" fill="#0a4f9e" stroke="#073d7c" stroke-width="0.6"/>
<rect x="789.72" y="752.1" width="6.95" height="14.8" fill="#6cb33f" stroke="#5c9a36" stroke-width="0.6"/>
<rect x="796.67" y="752.1" width="6.95" height="8.4" fill="#ea2a24" stroke="#c9221d" stroke-width="0.6"/>
<rect x="803.62" y="752.1" width="6.95" height="16.4" fill="#9673b5" stroke="#7d6196" stroke-width="0.6"/>
<rect x="817.51" y="752.1" width="6.95" height="34.5" fill="#0a4f9e" stroke="#073d7c" stroke-width="0.6"/>
<rect x="824.46" y="752.1" width="6.95" height="32.7" fill="#6cb33f" stroke="#5c9a36" stroke-width="0.6"/>
<rect x="831.41" y="752.1" width="6.95" height="2.4" fill="#ea2a24" stroke="#c9221d" stroke-width="0.6"/>
<rect x="838.36" y="752.1" width="6.95" height="0.4" fill="#9673b5" stroke="#7d6196" stroke-width="0.6"/>
<rect x="852.25" y="752.1" width="6.95" height="7.7" fill="#0a4f9e" stroke="#073d7c" stroke-width="0.6"/>
<rect x="859.2" y="752.1" width="6.95" height="6.6" fill="#6cb33f" stroke="#5c9a36" stroke-width="0.6"/>
<rect x="866.15" y="713.6" width="6.95" height="38.5" fill="#ea2a24" stroke="#c9221d" stroke-width="0.6"/>
<rect x="873.1" y="752.1" width="6.95" height="40" fill="#9673b5" stroke="#7d6196" stroke-width="0.6"/>
<rect x="886.99" y="714.1" width="6.95" height="38" fill="#0a4f9e" stroke="#073d7c" stroke-width="0.6"/>
<rect x="893.94" y="751.8" width="6.95" height="0.3" fill="#6cb33f" stroke="#5c9a36" stroke-width="0.6"/>
<rect x="900.89" y="647.8" width="6.95" height="104.3" fill="#ea2a24" stroke="#c9221d" stroke-width="0.6"/>
<rect x="907.84" y="752.1" width="6.95" height="66.5" fill="#9673b5" stroke="#7d6196" stroke-width="0.6"/>
<rect x="921.73" y="744.1" width="6.95" height="8" fill="#0a4f9e" stroke="#073d7c" stroke-width="0.6"/>
<rect x="928.68" y="752.1" width="6.95" height="14.4" fill="#6cb33f" stroke="#5c9a36" stroke-width="0.6"/>
<rect x="935.63" y="691.4" width="6.95" height="60.7" fill="#ea2a24" stroke="#c9221d" stroke-width="0.6"/>
<rect x="942.58" y="752.1" width="6.95" height="39.2" fill="#9673b5" stroke="#7d6196" stroke-width="0.6"/>
<rect x="956.47" y="752.1" width="6.95" height="5.3" fill="#0a4f9e" stroke="#073d7c" stroke-width="0.6"/>
<rect x="963.42" y="752.1" width="6.95" height="24.3" fill="#6cb33f" stroke="#5c9a36" stroke-width="0.6"/>
<rect x="970.37" y="711.5" width="6.95" height="40.6" fill="#ea2a24" stroke="#c9221d" stroke-width="0.6"/>
<rect x="977.32" y="752.1" width="6.95" height="22.1" fill="#9673b5" stroke="#7d6196" stroke-width="0.6"/>
<rect x="991.21" y="714.1" width="6.95" height="38" fill="#0a4f9e" stroke="#073d7c" stroke-width="0.6"/>
<rect x="998.16" y="752.1" width="6.95" height="4.2" fill="#6cb33f" stroke="#5c9a36" stroke-width="0.6"/>
<rect x="1005.11" y="646.4" width="6.95" height="105.7" fill="#ea2a24" stroke="#c9221d" stroke-width="0.6"/>
<rect x="1012.06" y="752.1" width="6.95" height="63.3" fill="#9673b5" stroke="#7d6196" stroke-width="0.6"/>
<rect x="1025.95" y="752.1" width="6.95" height="24.3" fill="#0a4f9e" stroke="#073d7c" stroke-width="0.6"/>
<rect x="1032.9" y="752.1" width="6.95" height="13.6" fill="#6cb33f" stroke="#5c9a36" stroke-width="0.6"/>
<rect x="1039.85" y="738.9" width="6.95" height="13.2" fill="#ea2a24" stroke="#c9221d" stroke-width="0.6"/>
<rect x="1046.8" y="752.1" width="6.95" height="24.3" fill="#9673b5" stroke="#7d6196" stroke-width="0.6"/>
<rect x="1095.43" y="752.1" width="6.95" height="46.7" fill="#0a4f9e" stroke="#073d7c" stroke-width="0.6"/>
<rect x="1102.38" y="752.1" width="6.95" height="49.5" fill="#6cb33f" stroke="#5c9a36" stroke-width="0.6"/>
<rect x="1109.33" y="752.1" width="6.95" height="19.4" fill="#ea2a24" stroke="#c9221d" stroke-width="0.6"/>
<rect x="1116.28" y="730.9" width="6.95" height="21.2" fill="#9673b5" stroke="#7d6196" stroke-width="0.6"/>
<rect x="1130.17" y="752.1" width="6.95" height="8.6" fill="#0a4f9e" stroke="#073d7c" stroke-width="0.6"/>
<rect x="1137.12" y="752.1" width="6.95" height="31.5" fill="#6cb33f" stroke="#5c9a36" stroke-width="0.6"/>
<rect x="1144.07" y="716" width="6.95" height="36.1" fill="#ea2a24" stroke="#c9221d" stroke-width="0.6"/>
<rect x="1151.02" y="752.1" width="6.95" height="13.3" fill="#9673b5" stroke="#7d6196" stroke-width="0.6"/>
<rect x="1164.91" y="752.1" width="6.95" height="25.2" fill="#0a4f9e" stroke="#073d7c" stroke-width="0.6"/>
<rect x="1171.86" y="752.1" width="6.95" height="53.6" fill="#6cb33f" stroke="#5c9a36" stroke-width="0.6"/>
<rect x="1178.81" y="740" width="6.95" height="12.1" fill="#ea2a24" stroke="#c9221d" stroke-width="0.6"/>
<rect x="1185.76" y="736.7" width="6.95" height="15.4" fill="#9673b5" stroke="#7d6196" stroke-width="0.6"/>
<rect x="1199.65" y="752.1" width="6.95" height="23.5" fill="#0a4f9e" stroke="#073d7c" stroke-width="0.6"/>
<rect x="1206.6" y="728.4" width="6.95" height="23.7" fill="#6cb33f" stroke="#5c9a36" stroke-width="0.6"/>
<rect x="1213.55" y="752.1" width="6.95" height="3.6" fill="#ea2a24" stroke="#c9221d" stroke-width="0.6"/>
<rect x="1220.5" y="752.1" width="6.95" height="43.4" fill="#9673b5" stroke="#7d6196" stroke-width="0.6"/>
<rect x="1234.39" y="752.1" width="6.95" height="29.6" fill="#0a4f9e" stroke="#073d7c" stroke-width="0.6"/>
<rect x="1241.34" y="752.1" width="6.95" height="32.1" fill="#6cb33f" stroke="#5c9a36" stroke-width="0.6"/>
<rect x="1248.29" y="745.8" width="6.95" height="6.3" fill="#ea2a24" stroke="#c9221d" stroke-width="0.6"/>
<rect x="1255.24" y="752.1" width="6.95" height="3.4" fill="#9673b5" stroke="#7d6196" stroke-width="0.6"/>
<line x1="84.5" y1="646.9" x2="84.5" y2="840" stroke="#161616" stroke-width="2"/>
<line x1="74" y1="646.9" x2="84.5" y2="646.9" stroke="#161616" stroke-width="1.6"/>
<text x="70" y="652.4" font-size="17.2" text-anchor="end" textLength="22.41" lengthAdjust="spacingAndGlyphs">1·0</text>
<line x1="74" y1="699.4" x2="84.5" y2="699.4" stroke="#161616" stroke-width="1.6"/>
<text x="70" y="704.9" font-size="17.2" text-anchor="end" textLength="31.46" lengthAdjust="spacingAndGlyphs">−0·5</text>
<line x1="74" y1="752.1" x2="84.5" y2="752.1" stroke="#161616" stroke-width="1.6"/>
<text x="70" y="757.6" font-size="17.2" text-anchor="end" textLength="8.62" lengthAdjust="spacingAndGlyphs">0</text>
<line x1="74" y1="804.8" x2="84.5" y2="804.8" stroke="#161616" stroke-width="1.6"/>
<text x="70" y="810.3" font-size="17.2" text-anchor="end" textLength="31.46" lengthAdjust="spacingAndGlyphs">−0·5</text>
<line x1="83.5" y1="839" x2="1267" y2="839" stroke="#161616" stroke-width="2"/>
<line x1="84.5" y1="839" x2="84.5" y2="848.5" stroke="#161616" stroke-width="2.2"/>
<line x1="119.24" y1="839" x2="119.24" y2="848.5" stroke="#161616" stroke-width="2.2"/>
<line x1="153.98" y1="839" x2="153.98" y2="848.5" stroke="#161616" stroke-width="2.2"/>
<line x1="188.72" y1="839" x2="188.72" y2="848.5" stroke="#161616" stroke-width="2.2"/>
<line x1="223.46" y1="839" x2="223.46" y2="848.5" stroke="#161616" stroke-width="2.2"/>
<line x1="258.2" y1="839" x2="258.2" y2="848.5" stroke="#161616" stroke-width="2.2"/>
<line x1="292.94" y1="839" x2="292.94" y2="848.5" stroke="#161616" stroke-width="2.2"/>
<line x1="327.68" y1="839" x2="327.68" y2="848.5" stroke="#161616" stroke-width="2.2"/>
<line x1="362.42" y1="839" x2="362.42" y2="848.5" stroke="#161616" stroke-width="2.2"/>
<line x1="397.16" y1="839" x2="397.16" y2="848.5" stroke="#161616" stroke-width="2.2"/>
<line x1="431.9" y1="839" x2="431.9" y2="848.5" stroke="#161616" stroke-width="2.2"/>
<line x1="466.64" y1="839" x2="466.64" y2="848.5" stroke="#161616" stroke-width="2.2"/>
<line x1="501.38" y1="839" x2="501.38" y2="848.5" stroke="#161616" stroke-width="2.2"/>
<line x1="536.12" y1="839" x2="536.12" y2="848.5" stroke="#161616" stroke-width="2.2"/>
<line x1="570.86" y1="839" x2="570.86" y2="848.5" stroke="#161616" stroke-width="2.2"/>
<line x1="605.6" y1="839" x2="605.6" y2="848.5" stroke="#161616" stroke-width="2.2"/>
<line x1="640.34" y1="839" x2="640.34" y2="848.5" stroke="#161616" stroke-width="2.2"/>
<line x1="675.08" y1="839" x2="675.08" y2="848.5" stroke="#161616" stroke-width="2.2"/>
<line x1="709.82" y1="839" x2="709.82" y2="848.5" stroke="#161616" stroke-width="2.2"/>
<line x1="744.56" y1="839" x2="744.56" y2="848.5" stroke="#161616" stroke-width="2.2"/>
<line x1="779.3" y1="839" x2="779.3" y2="848.5" stroke="#161616" stroke-width="2.2"/>
<line x1="814.04" y1="839" x2="814.04" y2="848.5" stroke="#161616" stroke-width="2.2"/>
<line x1="848.78" y1="839" x2="848.78" y2="848.5" stroke="#161616" stroke-width="2.2"/>
<line x1="883.52" y1="839" x2="883.52" y2="848.5" stroke="#161616" stroke-width="2.2"/>
<line x1="918.26" y1="839" x2="918.26" y2="848.5" stroke="#161616" stroke-width="2.2"/>
<line x1="953" y1="839" x2="953" y2="848.5" stroke="#161616" stroke-width="2.2"/>
<line x1="987.74" y1="839" x2="987.74" y2="848.5" stroke="#161616" stroke-width="2.2"/>
<line x1="1022.48" y1="839" x2="1022.48" y2="848.5" stroke="#161616" stroke-width="2.2"/>
<line x1="1057.22" y1="839" x2="1057.22" y2="848.5" stroke="#161616" stroke-width="2.2"/>
<line x1="1091.96" y1="839" x2="1091.96" y2="848.5" stroke="#161616" stroke-width="2.2"/>
<line x1="1126.7" y1="839" x2="1126.7" y2="848.5" stroke="#161616" stroke-width="2.2"/>
<line x1="1161.44" y1="839" x2="1161.44" y2="848.5" stroke="#161616" stroke-width="2.2"/>
<line x1="1196.18" y1="839" x2="1196.18" y2="848.5" stroke="#161616" stroke-width="2.2"/>
<line x1="1230.92" y1="839" x2="1230.92" y2="848.5" stroke="#161616" stroke-width="2.2"/>
<line x1="1265.66" y1="839" x2="1265.66" y2="848.5" stroke="#161616" stroke-width="2.2"/>
<text x="69.3" y="899" font-size="20" font-weight="bold" text-anchor="end">D</text>
<text x="82.5" y="899" font-size="17.5" stroke="#1c1c1c" stroke-width="0.25">Intermediate scenario, 2021–40</text>
<text transform="translate(14,1016.6) rotate(-90)" font-size="17" text-anchor="middle">Mortality change ratio (%)</text>
<line x1="84.5" y1="1051.2" x2="1265" y2="1051.2" stroke="#3f5052" stroke-width="1.5" stroke-dasharray="4.3 3.8"/>
<rect x="87.97" y="963.7" width="6.95" height="87.5" fill="#0a4f9e" stroke="#073d7c" stroke-width="0.6"/>
<rect x="94.92" y="1030.6" width="6.95" height="20.6" fill="#6cb33f" stroke="#5c9a36" stroke-width="0.6"/>
<rect x="101.87" y="990.4" width="6.95" height="60.8" fill="#ea2a24" stroke="#c9221d" stroke-width="0.6"/>
<rect x="108.82" y="1044.8" width="6.95" height="6.4" fill="#9673b5" stroke="#7d6196" stroke-width="0.6"/>
<rect x="122.71" y="919.7" width="6.95" height="131.5" fill="#0a4f9e" stroke="#073d7c" stroke-width="0.6"/>
<rect x="129.66" y="1037.7" width="6.95" height="13.5" fill="#6cb33f" stroke="#5c9a36" stroke-width="0.6"/>
<rect x="136.61" y="940.7" width="6.95" height="110.5" fill="#ea2a24" stroke="#c9221d" stroke-width="0.6"/>
<rect x="143.56" y="1043.7" width="6.95" height="7.5" fill="#9673b5" stroke="#7d6196" stroke-width="0.6"/>
<rect x="157.45" y="1022.7" width="6.95" height="28.5" fill="#0a4f9e" stroke="#073d7c" stroke-width="0.6"/>
<rect x="164.4" y="1033.5" width="6.95" height="17.7" fill="#6cb33f" stroke="#5c9a36" stroke-width="0.6"/>
<rect x="171.35" y="1039.5" width="6.95" height="11.7" fill="#ea2a24" stroke="#c9221d" stroke-width="0.6"/>
<rect x="178.3" y="1051.2" width="6.95" height="1.1" fill="#9673b5" stroke="#7d6196" stroke-width="0.6"/>
<rect x="192.19" y="1004.6" width="6.95" height="46.6" fill="#0a4f9e" stroke="#073d7c" stroke-width="0.6"/>
<rect x="199.14" y="1034.8" width="6.95" height="16.4" fill="#6cb33f" stroke="#5c9a36" stroke-width="0.6"/>
<rect x="206.09" y="1024.5" width="6.95" height="26.7" fill="#ea2a24" stroke="#c9221d" stroke-width="0.6"/>
<rect x="213.04" y="1047.4" width="6.95" height="3.8" fill="#9673b5" stroke="#7d6196" stroke-width="0.6"/>
<rect x="226.93" y="944.9" width="6.95" height="106.3" fill="#0a4f9e" stroke="#073d7c" stroke-width="0.6"/>
<rect x="233.88" y="1032.9" width="6.95" height="18.3" fill="#6cb33f" stroke="#5c9a36" stroke-width="0.6"/>
<rect x="240.83" y="975.8" width="6.95" height="75.4" fill="#ea2a24" stroke="#c9221d" stroke-width="0.6"/>
<rect x="247.78" y="1038.8" width="6.95" height="12.4" fill="#9673b5" stroke="#7d6196" stroke-width="0.6"/>
<rect x="261.67" y="1013.9" width="6.95" height="37.3" fill="#0a4f9e" stroke="#073d7c" stroke-width="0.6"/>
<rect x="268.62" y="1033.5" width="6.95" height="17.7" fill="#6cb33f" stroke="#5c9a36" stroke-width="0.6"/>
<rect x="275.57" y="1033.5" width="6.95" height="17.7" fill="#ea2a24" stroke="#c9221d" stroke-width="0.6"/>
<rect x="282.52" y="1048.8" width="6.95" height="2.4" fill="#9673b5" stroke="#7d6196" stroke-width="0.6"/>
<rect x="296.41" y="1012.7" width="6.95" height="38.5" fill="#0a4f9e" stroke="#073d7c" stroke-width="0.6"/>
<rect x="303.36" y="1033.5" width="6.95" height="17.7" fill="#6cb33f" stroke="#5c9a36" stroke-width="0.6"/>
<rect x="310.31" y="1030.9" width="6.95" height="20.3" fill="#ea2a24" stroke="#c9221d" stroke-width="0.6"/>
<rect x="317.26" y="1050.5" width="6.95" height="0.7" fill="#9673b5" stroke="#7d6196" stroke-width="0.6"/>
<rect x="331.15" y="1011.9" width="6.95" height="39.3" fill="#0a4f9e" stroke="#073d7c" stroke-width="0.6"/>
<rect x="338.1" y="1028.9" width="6.95" height="22.3" fill="#6cb33f" stroke="#5c9a36" stroke-width="0.6"/>
<rect x="345.05" y="1032.9" width="6.95" height="18.3" fill="#ea2a24" stroke="#c9221d" stroke-width="0.6"/>
<rect x="352" y="1051.2" width="6.95" height="1.1" fill="#9673b5" stroke="#7d6196" stroke-width="0.6"/>
<rect x="365.89" y="1018.7" width="6.95" height="32.5" fill="#0a4f9e" stroke="#073d7c" stroke-width="0.6"/>
<rect x="372.84" y="1022.2" width="6.95" height="29" fill="#6cb33f" stroke="#5c9a36" stroke-width="0.6"/>
<rect x="379.79" y="1043.7" width="6.95" height="7.5" fill="#ea2a24" stroke="#c9221d" stroke-width="0.6"/>
<rect x="386.74" y="1051.2" width="6.95" height="3.3" fill="#9673b5" stroke="#7d6196" stroke-width="0.6"/>
<rect x="400.63" y="994" width="6.95" height="57.2" fill="#0a4f9e" stroke="#073d7c" stroke-width="0.6"/>
<rect x="407.58" y="1029.8" width="6.95" height="21.4" fill="#6cb33f" stroke="#5c9a36" stroke-width="0.6"/>
<rect x="414.53" y="1020.9" width="6.95" height="30.3" fill="#ea2a24" stroke="#c9221d" stroke-width="0.6"/>
<rect x="421.48" y="1045.2" width="6.95" height="6" fill="#9673b5" stroke="#7d6196" stroke-width="0.6"/>
<rect x="435.37" y="984.9" width="6.95" height="66.3" fill="#0a4f9e" stroke="#073d7c" stroke-width="0.6"/>
<rect x="442.32" y="1028.9" width="6.95" height="22.3" fill="#6cb33f" stroke="#5c9a36" stroke-width="0.6"/>
<rect x="449.27" y="1009.7" width="6.95" height="41.5" fill="#ea2a24" stroke="#c9221d" stroke-width="0.6"/>
<rect x="456.22" y="1048.8" width="6.95" height="2.4" fill="#9673b5" stroke="#7d6196" stroke-width="0.6"/>
<rect x="470.11" y="949.8" width="6.95" height="101.4" fill="#0a4f9e" stroke="#073d7c" stroke-width="0.6"/>
<rect x="477.06" y="1023.6" width="6.95" height="27.6" fill="#6cb33f" stroke="#5c9a36" stroke-width="0.6"/>
<rect x="484.01" y="980.7" width="6.95" height="70.5" fill="#ea2a24" stroke="#c9221d" stroke-width="0.6"/>
<rect x="490.96" y="1047.7" width="6.95" height="3.5" fill="#9673b5" stroke="#7d6196" stroke-width="0.6"/>
<rect x="504.85" y="1051.2" width="6.95" height="39.3" fill="#0a4f9e" stroke="#073d7c" stroke-width="0.6"/>
<rect x="511.8" y="1028.9" width="6.95" height="22.3" fill="#6cb33f" stroke="#5c9a36" stroke-width="0.6"/>
<rect x="518.75" y="1051.2" width="6.95" height="51.5" fill="#ea2a24" stroke="#c9221d" stroke-width="0.6"/>
<rect x="525.7" y="1051.2" width="6.95" height="10.4" fill="#9673b5" stroke="#7d6196" stroke-width="0.6"/>
<rect x="539.59" y="1051.2" width="6.95" height="13.9" fill="#0a4f9e" stroke="#073d7c" stroke-width="0.6"/>
<rect x="546.54" y="1029.8" width="6.95" height="21.4" fill="#6cb33f" stroke="#5c9a36" stroke-width="0.6"/>
<rect x="553.49" y="1051.2" width="6.95" height="27.4" fill="#ea2a24" stroke="#c9221d" stroke-width="0.6"/>
<rect x="560.44" y="1051.2" width="6.95" height="8.6" fill="#9673b5" stroke="#7d6196" stroke-width="0.6"/>
<rect x="574.33" y="1032.6" width="6.95" height="18.6" fill="#0a4f9e" stroke="#073d7c" stroke-width="0.6"/>
<rect x="581.28" y="1032" width="6.95" height="19.2" fill="#6cb33f" stroke="#5c9a36" stroke-width="0.6"/>
<rect x="588.23" y="1050.8" width="6.95" height="0.4" fill="#ea2a24" stroke="#c9221d" stroke-width="0.6"/>
<rect x="595.18" y="1051.2" width="6.95" height="1.1" fill="#9673b5" stroke="#7d6196" stroke-width="0.6"/>
<rect x="609.07" y="1051.2" width="6.95" height="30.5" fill="#0a4f9e" stroke="#073d7c" stroke-width="0.6"/>
<rect x="616.02" y="1032.9" width="6.95" height="18.3" fill="#6cb33f" stroke="#5c9a36" stroke-width="0.6"/>
<rect x="622.97" y="1051.2" width="6.95" height="41.1" fill="#ea2a24" stroke="#c9221d" stroke-width="0.6"/>
<rect x="629.92" y="1051.2" width="6.95" height="7.5" fill="#9673b5" stroke="#7d6196" stroke-width="0.6"/>
<rect x="643.81" y="1016.9" width="6.95" height="34.3" fill="#0a4f9e" stroke="#073d7c" stroke-width="0.6"/>
<rect x="650.76" y="1036" width="6.95" height="15.2" fill="#6cb33f" stroke="#5c9a36" stroke-width="0.6"/>
<rect x="657.71" y="1038.8" width="6.95" height="12.4" fill="#ea2a24" stroke="#c9221d" stroke-width="0.6"/>
<rect x="664.66" y="1044.8" width="6.95" height="6.4" fill="#9673b5" stroke="#7d6196" stroke-width="0.6"/>
<rect x="678.55" y="1000.8" width="6.95" height="50.4" fill="#0a4f9e" stroke="#073d7c" stroke-width="0.6"/>
<rect x="685.5" y="1036.4" width="6.95" height="14.8" fill="#6cb33f" stroke="#5c9a36" stroke-width="0.6"/>
<rect x="692.45" y="1022.7" width="6.95" height="28.5" fill="#ea2a24" stroke="#c9221d" stroke-width="0.6"/>
<rect x="699.4" y="1043.7" width="6.95" height="7.5" fill="#9673b5" stroke="#7d6196" stroke-width="0.6"/>
<rect x="713.29" y="1017.8" width="6.95" height="33.4" fill="#0a4f9e" stroke="#073d7c" stroke-width="0.6"/>
<rect x="720.24" y="1034.2" width="6.95" height="17" fill="#6cb33f" stroke="#5c9a36" stroke-width="0.6"/>
<rect x="727.19" y="1044.6" width="6.95" height="6.6" fill="#ea2a24" stroke="#c9221d" stroke-width="0.6"/>
<rect x="734.14" y="1041.7" width="6.95" height="9.5" fill="#9673b5" stroke="#7d6196" stroke-width="0.6"/>
<rect x="748.03" y="976.1" width="6.95" height="75.1" fill="#0a4f9e" stroke="#073d7c" stroke-width="0.6"/>
<rect x="754.98" y="1032" width="6.95" height="19.2" fill="#6cb33f" stroke="#5c9a36" stroke-width="0.6"/>
<rect x="761.93" y="1001.7" width="6.95" height="49.5" fill="#ea2a24" stroke="#c9221d" stroke-width="0.6"/>
<rect x="768.88" y="1045.9" width="6.95" height="5.3" fill="#9673b5" stroke="#7d6196" stroke-width="0.6"/>
<rect x="782.77" y="1030.4" width="6.95" height="20.8" fill="#0a4f9e" stroke="#073d7c" stroke-width="0.6"/>
<rect x="789.72" y="1032" width="6.95" height="19.2" fill="#6cb33f" stroke="#5c9a36" stroke-width="0.6"/>
<rect x="796.67" y="1051" width="6.95" height="0.3" fill="#ea2a24" stroke="#c9221d" stroke-width="0.6"/>
<rect x="803.62" y="1048.8" width="6.95" height="2.4" fill="#9673b5" stroke="#7d6196" stroke-width="0.6"/>
<rect x="817.51" y="1006.8" width="6.95" height="44.4" fill="#0a4f9e" stroke="#073d7c" stroke-width="0.6"/>
<rect x="824.46" y="1028.9" width="6.95" height="22.3" fill="#6cb33f" stroke="#5c9a36" stroke-width="0.6"/>
<rect x="831.41" y="1032.9" width="6.95" height="18.3" fill="#ea2a24" stroke="#c9221d" stroke-width="0.6"/>
<rect x="838.36" y="1046.8" width="6.95" height="4.4" fill="#9673b5" stroke="#7d6196" stroke-width="0.6"/>
<rect x="852.25" y="924.8" width="6.95" height="126.4" fill="#0a4f9e" stroke="#073d7c" stroke-width="0.6"/>
<rect x="859.2" y="1026" width="6.95" height="25.2" fill="#6cb33f" stroke="#5c9a36" stroke-width="0.6"/>
<rect x="866.15" y="964.3" width="6.95" height="86.9" fill="#ea2a24" stroke="#c9221d" stroke-width="0.6"/>
<rect x="873.1" y="1036.6" width="6.95" height="14.6" fill="#9673b5" stroke="#7d6196" stroke-width="0.6"/>
<rect x="886.99" y="938.9" width="6.95" height="112.3" fill="#0a4f9e" stroke="#073d7c" stroke-width="0.6"/>
<rect x="893.94" y="1030.9" width="6.95" height="20.3" fill="#6cb33f" stroke="#5c9a36" stroke-width="0.6"/>
<rect x="900.89" y="971" width="6.95" height="80.2" fill="#ea2a24" stroke="#c9221d" stroke-width="0.6"/>
<rect x="907.84" y="1039.9" width="6.95" height="11.3" fill="#9673b5" stroke="#7d6196" stroke-width="0.6"/>
<rect x="921.73" y="937.1" width="6.95" height="114.1" fill="#0a4f9e" stroke="#073d7c" stroke-width="0.6"/>
<rect x="928.68" y="1021.9" width="6.95" height="29.3" fill="#6cb33f" stroke="#5c9a36" stroke-width="0.6"/>
<rect x="935.63" y="979.9" width="6.95" height="71.3" fill="#ea2a24" stroke="#c9221d" stroke-width="0.6"/>
<rect x="942.58" y="1037.1" width="6.95" height="14.1" fill="#9673b5" stroke="#7d6196" stroke-width="0.6"/>
<rect x="956.47" y="1018.9" width="6.95" height="32.3" fill="#0a4f9e" stroke="#073d7c" stroke-width="0.6"/>
<rect x="963.42" y="1033.8" width="6.95" height="17.4" fill="#6cb33f" stroke="#5c9a36" stroke-width="0.6"/>
<rect x="970.37" y="1039.6" width="6.95" height="11.6" fill="#ea2a24" stroke="#c9221d" stroke-width="0.6"/>
<rect x="977.32" y="1048.4" width="6.95" height="2.8" fill="#9673b5" stroke="#7d6196" stroke-width="0.6"/>
<rect x="991.21" y="922.2" width="6.95" height="129" fill="#0a4f9e" stroke="#073d7c" stroke-width="0.6"/>
<rect x="998.16" y="1005.3" width="6.95" height="45.9" fill="#6cb33f" stroke="#5c9a36" stroke-width="0.6"/>
<rect x="1005.11" y="989" width="6.95" height="62.2" fill="#ea2a24" stroke="#c9221d" stroke-width="0.6"/>
<rect x="1012.06" y="1029.9" width="6.95" height="21.3" fill="#9673b5" stroke="#7d6196" stroke-width="0.6"/>
<rect x="1025.95" y="996.2" width="6.95" height="55" fill="#0a4f9e" stroke="#073d7c" stroke-width="0.6"/>
<rect x="1032.9" y="1033.2" width="6.95" height="18" fill="#6cb33f" stroke="#5c9a36" stroke-width="0.6"/>
<rect x="1039.85" y="1018.9" width="6.95" height="32.3" fill="#ea2a24" stroke="#c9221d" stroke-width="0.6"/>
<rect x="1046.8" y="1047.1" width="6.95" height="4.1" fill="#9673b5" stroke="#7d6196" stroke-width="0.6"/>
<rect x="1095.43" y="1038.8" width="6.95" height="12.4" fill="#0a4f9e" stroke="#073d7c" stroke-width="0.6"/>
<rect x="1102.38" y="1043.7" width="6.95" height="7.5" fill="#6cb33f" stroke="#5c9a36" stroke-width="0.6"/>
<rect x="1109.33" y="1045.4" width="6.95" height="5.8" fill="#ea2a24" stroke="#c9221d" stroke-width="0.6"/>
<rect x="1116.28" y="1050.6" width="6.95" height="0.6" fill="#9673b5" stroke="#7d6196" stroke-width="0.6"/>
<rect x="1130.17" y="978" width="6.95" height="73.2" fill="#0a4f9e" stroke="#073d7c" stroke-width="0.6"/>
<rect x="1137.12" y="1033.8" width="6.95" height="17.4" fill="#6cb33f" stroke="#5c9a36" stroke-width="0.6"/>
<rect x="1144.07" y="1002.9" width="6.95" height="48.3" fill="#ea2a24" stroke="#c9221d" stroke-width="0.6"/>
<rect x="1151.02" y="1043.7" width="6.95" height="7.5" fill="#9673b5" stroke="#7d6196" stroke-width="0.6"/>
<rect x="1164.91" y="1000.9" width="6.95" height="50.3" fill="#0a4f9e" stroke="#073d7c" stroke-width="0.6"/>
<rect x="1171.86" y="1027.7" width="6.95" height="23.5" fill="#6cb33f" stroke="#5c9a36" stroke-width="0.6"/>
<rect x="1178.81" y="1026.1" width="6.95" height="25.1" fill="#ea2a24" stroke="#c9221d" stroke-width="0.6"/>
<rect x="1185.76" y="1050.1" width="6.95" height="1.1" fill="#9673b5" stroke="#7d6196" stroke-width="0.6"/>
<rect x="1199.65" y="992.6" width="6.95" height="58.6" fill="#0a4f9e" stroke="#073d7c" stroke-width="0.6"/>
<rect x="1206.6" y="993.5" width="6.95" height="57.7" fill="#6cb33f" stroke="#5c9a36" stroke-width="0.6"/>
<rect x="1213.55" y="1050.9" width="6.95" height="0.3" fill="#ea2a24" stroke="#c9221d" stroke-width="0.6"/>
<rect x="1220.5" y="1050.1" width="6.95" height="1.1" fill="#9673b5" stroke="#7d6196" stroke-width="0.6"/>
<rect x="1234.39" y="997.9" width="6.95" height="53.3" fill="#0a4f9e" stroke="#073d7c" stroke-width="0.6"/>
<rect x="1241.34" y="1043.2" width="6.95" height="8" fill="#6cb33f" stroke="#5c9a36" stroke-width="0.6"/>
<rect x="1248.29" y="1007" width="6.95" height="44.2" fill="#ea2a24" stroke="#c9221d" stroke-width="0.6"/>
<rect x="1255.24" y="1050.1" width="6.95" height="1.1" fill="#9673b5" stroke="#7d6196" stroke-width="0.6"/>
<line x1="84.5" y1="920.6" x2="84.5" y2="1113.6" stroke="#161616" stroke-width="2"/>
<line x1="74" y1="924.4" x2="84.5" y2="924.4" stroke="#161616" stroke-width="1.6"/>
<text x="70" y="929.9" font-size="17.2" text-anchor="end" textLength="31.03" lengthAdjust="spacingAndGlyphs">1·00</text>
<line x1="74" y1="956.1" x2="84.5" y2="956.1" stroke="#161616" stroke-width="1.6"/>
<text x="70" y="961.6" font-size="17.2" text-anchor="end" textLength="31.03" lengthAdjust="spacingAndGlyphs">0·75</text>
<line x1="74" y1="987.8" x2="84.5" y2="987.8" stroke="#161616" stroke-width="1.6"/>
<text x="70" y="993.3" font-size="17.2" text-anchor="end" textLength="31.03" lengthAdjust="spacingAndGlyphs">0·50</text>
<line x1="74" y1="1019.4" x2="84.5" y2="1019.4" stroke="#161616" stroke-width="1.6"/>
<text x="70" y="1024.9" font-size="17.2" text-anchor="end" textLength="31.03" lengthAdjust="spacingAndGlyphs">0·25</text>
<line x1="74" y1="1051.2" x2="84.5" y2="1051.2" stroke="#161616" stroke-width="1.6"/>
<text x="70" y="1056.7" font-size="17.2" text-anchor="end" textLength="8.62" lengthAdjust="spacingAndGlyphs">0</text>
<line x1="74" y1="1082.7" x2="84.5" y2="1082.7" stroke="#161616" stroke-width="1.6"/>
<text x="70" y="1088.2" font-size="17.2" text-anchor="end" textLength="40.08" lengthAdjust="spacingAndGlyphs">−0·25</text>
<line x1="83.5" y1="1112.6" x2="1267" y2="1112.6" stroke="#161616" stroke-width="2"/>
<line x1="84.5" y1="1112.6" x2="84.5" y2="1122.1" stroke="#161616" stroke-width="2.2"/>
<line x1="119.24" y1="1112.6" x2="119.24" y2="1122.1" stroke="#161616" stroke-width="2.2"/>
<line x1="153.98" y1="1112.6" x2="153.98" y2="1122.1" stroke="#161616" stroke-width="2.2"/>
<line x1="188.72" y1="1112.6" x2="188.72" y2="1122.1" stroke="#161616" stroke-width="2.2"/>
<line x1="223.46" y1="1112.6" x2="223.46" y2="1122.1" stroke="#161616" stroke-width="2.2"/>
<line x1="258.2" y1="1112.6" x2="258.2" y2="1122.1" stroke="#161616" stroke-width="2.2"/>
<line x1="292.94" y1="1112.6" x2="292.94" y2="1122.1" stroke="#161616" stroke-width="2.2"/>
<line x1="327.68" y1="1112.6" x2="327.68" y2="1122.1" stroke="#161616" stroke-width="2.2"/>
<line x1="362.42" y1="1112.6" x2="362.42" y2="1122.1" stroke="#161616" stroke-width="2.2"/>
<line x1="397.16" y1="1112.6" x2="397.16" y2="1122.1" stroke="#161616" stroke-width="2.2"/>
<line x1="431.9" y1="1112.6" x2="431.9" y2="1122.1" stroke="#161616" stroke-width="2.2"/>
<line x1="466.64" y1="1112.6" x2="466.64" y2="1122.1" stroke="#161616" stroke-width="2.2"/>
<line x1="501.38" y1="1112.6" x2="501.38" y2="1122.1" stroke="#161616" stroke-width="2.2"/>
<line x1="536.12" y1="1112.6" x2="536.12" y2="1122.1" stroke="#161616" stroke-width="2.2"/>
<line x1="570.86" y1="1112.6" x2="570.86" y2="1122.1" stroke="#161616" stroke-width="2.2"/>
<line x1="605.6" y1="1112.6" x2="605.6" y2="1122.1" stroke="#161616" stroke-width="2.2"/>
<line x1="640.34" y1="1112.6" x2="640.34" y2="1122.1" stroke="#161616" stroke-width="2.2"/>
<line x1="675.08" y1="1112.6" x2="675.08" y2="1122.1" stroke="#161616" stroke-width="2.2"/>
<line x1="709.82" y1="1112.6" x2="709.82" y2="1122.1" stroke="#161616" stroke-width="2.2"/>
<line x1="744.56" y1="1112.6" x2="744.56" y2="1122.1" stroke="#161616" stroke-width="2.2"/>
<line x1="779.3" y1="1112.6" x2="779.3" y2="1122.1" stroke="#161616" stroke-width="2.2"/>
<line x1="814.04" y1="1112.6" x2="814.04" y2="1122.1" stroke="#161616" stroke-width="2.2"/>
<line x1="848.78" y1="1112.6" x2="848.78" y2="1122.1" stroke="#161616" stroke-width="2.2"/>
<line x1="883.52" y1="1112.6" x2="883.52" y2="1122.1" stroke="#161616" stroke-width="2.2"/>
<line x1="918.26" y1="1112.6" x2="918.26" y2="1122.1" stroke="#161616" stroke-width="2.2"/>
<line x1="953" y1="1112.6" x2="953" y2="1122.1" stroke="#161616" stroke-width="2.2"/>
<line x1="987.74" y1="1112.6" x2="987.74" y2="1122.1" stroke="#161616" stroke-width="2.2"/>
<line x1="1022.48" y1="1112.6" x2="1022.48" y2="1122.1" stroke="#161616" stroke-width="2.2"/>
<line x1="1057.22" y1="1112.6" x2="1057.22" y2="1122.1" stroke="#161616" stroke-width="2.2"/>
<line x1="1091.96" y1="1112.6" x2="1091.96" y2="1122.1" stroke="#161616" stroke-width="2.2"/>
<line x1="1126.7" y1="1112.6" x2="1126.7" y2="1122.1" stroke="#161616" stroke-width="2.2"/>
<line x1="1161.44" y1="1112.6" x2="1161.44" y2="1122.1" stroke="#161616" stroke-width="2.2"/>
<line x1="1196.18" y1="1112.6" x2="1196.18" y2="1122.1" stroke="#161616" stroke-width="2.2"/>
<line x1="1230.92" y1="1112.6" x2="1230.92" y2="1122.1" stroke="#161616" stroke-width="2.2"/>
<line x1="1265.66" y1="1112.6" x2="1265.66" y2="1122.1" stroke="#161616" stroke-width="2.2"/>
<text x="69.3" y="1172.5" font-size="20" font-weight="bold" text-anchor="end">E</text>
<text x="82.5" y="1172.5" font-size="17.5" stroke="#1c1c1c" stroke-width="0.25">Intermediate scenario, 2051–70</text>
<text transform="translate(14,1290.1) rotate(-90)" font-size="17" text-anchor="middle">Mortality change ratio (%)</text>
<line x1="84.5" y1="1309.5" x2="1265" y2="1309.5" stroke="#3f5052" stroke-width="1.5" stroke-dasharray="4.3 3.8"/>
<rect x="87.97" y="1309.5" width="6.95" height="11.3" fill="#0a4f9e" stroke="#073d7c" stroke-width="0.6"/>
<rect x="94.92" y="1277.9" width="6.95" height="31.6" fill="#6cb33f" stroke="#5c9a36" stroke-width="0.6"/>
<rect x="101.87" y="1309.5" width="6.95" height="0.9" fill="#ea2a24" stroke="#c9221d" stroke-width="0.6"/>
<rect x="108.82" y="1309.5" width="6.95" height="44.2" fill="#9673b5" stroke="#7d6196" stroke-width="0.6"/>
<rect x="122.71" y="1309.5" width="6.95" height="32.3" fill="#0a4f9e" stroke="#073d7c" stroke-width="0.6"/>
<rect x="129.66" y="1258.5" width="6.95" height="51" fill="#6cb33f" stroke="#5c9a36" stroke-width="0.6"/>
<rect x="136.61" y="1309.5" width="6.95" height="23.2" fill="#ea2a24" stroke="#c9221d" stroke-width="0.6"/>
<rect x="143.56" y="1309.5" width="6.95" height="60.1" fill="#9673b5" stroke="#7d6196" stroke-width="0.6"/>
<rect x="157.45" y="1302.2" width="6.95" height="7.3" fill="#0a4f9e" stroke="#073d7c" stroke-width="0.6"/>
<rect x="164.4" y="1307.5" width="6.95" height="2" fill="#6cb33f" stroke="#5c9a36" stroke-width="0.6"/>
<rect x="171.35" y="1286.1" width="6.95" height="23.4" fill="#ea2a24" stroke="#c9221d" stroke-width="0.6"/>
<rect x="178.3" y="1309.5" width="6.95" height="17.9" fill="#9673b5" stroke="#7d6196" stroke-width="0.6"/>
<rect x="192.19" y="1309.5" width="6.95" height="12.4" fill="#0a4f9e" stroke="#073d7c" stroke-width="0.6"/>
<rect x="199.14" y="1297.8" width="6.95" height="11.7" fill="#6cb33f" stroke="#5c9a36" stroke-width="0.6"/>
<rect x="206.09" y="1309.5" width="6.95" height="1.1" fill="#ea2a24" stroke="#c9221d" stroke-width="0.6"/>
<rect x="213.04" y="1309.5" width="6.95" height="23.2" fill="#9673b5" stroke="#7d6196" stroke-width="0.6"/>
<rect x="226.93" y="1309.5" width="6.95" height="37.8" fill="#0a4f9e" stroke="#073d7c" stroke-width="0.6"/>
<rect x="233.88" y="1268" width="6.95" height="41.5" fill="#6cb33f" stroke="#5c9a36" stroke-width="0.6"/>
<rect x="240.83" y="1309.5" width="6.95" height="30.5" fill="#ea2a24" stroke="#c9221d" stroke-width="0.6"/>
<rect x="247.78" y="1309.5" width="6.95" height="48.2" fill="#9673b5" stroke="#7d6196" stroke-width="0.6"/>
<rect x="261.67" y="1293.8" width="6.95" height="15.7" fill="#0a4f9e" stroke="#073d7c" stroke-width="0.6"/>
<rect x="268.62" y="1302.2" width="6.95" height="7.3" fill="#6cb33f" stroke="#5c9a36" stroke-width="0.6"/>
<rect x="275.57" y="1277" width="6.95" height="32.5" fill="#ea2a24" stroke="#c9221d" stroke-width="0.6"/>
<rect x="282.52" y="1309.5" width="6.95" height="24.3" fill="#9673b5" stroke="#7d6196" stroke-width="0.6"/>
<rect x="296.41" y="1309.5" width="6.95" height="6.2" fill="#0a4f9e" stroke="#073d7c" stroke-width="0.6"/>
<rect x="303.36" y="1302" width="6.95" height="7.5" fill="#6cb33f" stroke="#5c9a36" stroke-width="0.6"/>
<rect x="310.31" y="1301.3" width="6.95" height="8.2" fill="#ea2a24" stroke="#c9221d" stroke-width="0.6"/>
<rect x="317.26" y="1309.5" width="6.95" height="20.8" fill="#9673b5" stroke="#7d6196" stroke-width="0.6"/>
<rect x="331.15" y="1309.5" width="6.95" height="19.2" fill="#0a4f9e" stroke="#073d7c" stroke-width="0.6"/>
<rect x="338.1" y="1302" width="6.95" height="7.5" fill="#6cb33f" stroke="#5c9a36" stroke-width="0.6"/>
<rect x="345.05" y="1309.5" width="6.95" height="7.3" fill="#ea2a24" stroke="#c9221d" stroke-width="0.6"/>
<rect x="352" y="1309.5" width="6.95" height="19.2" fill="#9673b5" stroke="#7d6196" stroke-width="0.6"/>
<rect x="365.89" y="1241" width="6.95" height="68.5" fill="#0a4f9e" stroke="#073d7c" stroke-width="0.6"/>
<rect x="372.84" y="1304" width="6.95" height="5.5" fill="#6cb33f" stroke="#5c9a36" stroke-width="0.6"/>
<rect x="379.79" y="1215.8" width="6.95" height="93.7" fill="#ea2a24" stroke="#c9221d" stroke-width="0.6"/>
<rect x="386.74" y="1309.5" width="6.95" height="31.2" fill="#9673b5" stroke="#7d6196" stroke-width="0.6"/>
<rect x="400.63" y="1266.6" width="6.95" height="42.9" fill="#0a4f9e" stroke="#073d7c" stroke-width="0.6"/>
<rect x="407.58" y="1290.9" width="6.95" height="18.6" fill="#6cb33f" stroke="#5c9a36" stroke-width="0.6"/>
<rect x="414.53" y="1244.1" width="6.95" height="65.4" fill="#ea2a24" stroke="#c9221d" stroke-width="0.6"/>
<rect x="421.48" y="1309.5" width="6.95" height="40.9" fill="#9673b5" stroke="#7d6196" stroke-width="0.6"/>
<rect x="435.37" y="1252.7" width="6.95" height="56.8" fill="#0a4f9e" stroke="#073d7c" stroke-width="0.6"/>
<rect x="442.32" y="1286.7" width="6.95" height="22.8" fill="#6cb33f" stroke="#5c9a36" stroke-width="0.6"/>
<rect x="449.27" y="1228.8" width="6.95" height="80.7" fill="#ea2a24" stroke="#c9221d" stroke-width="0.6"/>
<rect x="456.22" y="1309.5" width="6.95" height="46.4" fill="#9673b5" stroke="#7d6196" stroke-width="0.6"/>
<rect x="470.11" y="1224.2" width="6.95" height="85.3" fill="#0a4f9e" stroke="#073d7c" stroke-width="0.6"/>
<rect x="477.06" y="1268.8" width="6.95" height="40.7" fill="#6cb33f" stroke="#5c9a36" stroke-width="0.6"/>
<rect x="484.01" y="1195.9" width="6.95" height="113.6" fill="#ea2a24" stroke="#c9221d" stroke-width="0.6"/>
<rect x="490.96" y="1309.5" width="6.95" height="69.2" fill="#9673b5" stroke="#7d6196" stroke-width="0.6"/>
<rect x="504.85" y="1309.5" width="6.95" height="5.1" fill="#0a4f9e" stroke="#073d7c" stroke-width="0.6"/>
<rect x="511.8" y="1309.5" width="6.95" height="31.2" fill="#6cb33f" stroke="#5c9a36" stroke-width="0.6"/>
<rect x="518.75" y="1303.8" width="6.95" height="5.7" fill="#ea2a24" stroke="#c9221d" stroke-width="0.6"/>
<rect x="525.7" y="1288.9" width="6.95" height="20.6" fill="#9673b5" stroke="#7d6196" stroke-width="0.6"/>
<rect x="539.59" y="1306.6" width="6.95" height="2.9" fill="#0a4f9e" stroke="#073d7c" stroke-width="0.6"/>
<rect x="546.54" y="1309.5" width="6.95" height="18.3" fill="#6cb33f" stroke="#5c9a36" stroke-width="0.6"/>
<rect x="553.49" y="1293.1" width="6.95" height="16.4" fill="#ea2a24" stroke="#c9221d" stroke-width="0.6"/>
<rect x="560.44" y="1304" width="6.95" height="5.5" fill="#9673b5" stroke="#7d6196" stroke-width="0.6"/>
<rect x="574.33" y="1283.9" width="6.95" height="25.6" fill="#0a4f9e" stroke="#073d7c" stroke-width="0.6"/>
<rect x="581.28" y="1309.5" width="6.95" height="2" fill="#6cb33f" stroke="#5c9a36" stroke-width="0.6"/>
<rect x="588.23" y="1266" width="6.95" height="43.5" fill="#ea2a24" stroke="#c9221d" stroke-width="0.6"/>
<rect x="595.18" y="1309.5" width="6.95" height="15.2" fill="#9673b5" stroke="#7d6196" stroke-width="0.6"/>
<rect x="609.07" y="1306" width="6.95" height="3.5" fill="#0a4f9e" stroke="#073d7c" stroke-width="0.6"/>
<rect x="616.02" y="1309.5" width="6.95" height="26.1" fill="#6cb33f" stroke="#5c9a36" stroke-width="0.6"/>
<rect x="622.97" y="1293.8" width="6.95" height="15.7" fill="#ea2a24" stroke="#c9221d" stroke-width="0.6"/>
<rect x="629.92" y="1294.9" width="6.95" height="14.6" fill="#9673b5" stroke="#7d6196" stroke-width="0.6"/>
<rect x="643.81" y="1309.5" width="6.95" height="7.3" fill="#0a4f9e" stroke="#073d7c" stroke-width="0.6"/>
<rect x="650.76" y="1304" width="6.95" height="5.5" fill="#6cb33f" stroke="#5c9a36" stroke-width="0.6"/>
<rect x="657.71" y="1302.9" width="6.95" height="6.6" fill="#ea2a24" stroke="#c9221d" stroke-width="0.6"/>
<rect x="664.66" y="1309.5" width="6.95" height="19.2" fill="#9673b5" stroke="#7d6196" stroke-width="0.6"/>
<rect x="678.55" y="1304.4" width="6.95" height="5.1" fill="#0a4f9e" stroke="#073d7c" stroke-width="0.6"/>
<rect x="685.5" y="1296.9" width="6.95" height="12.6" fill="#6cb33f" stroke="#5c9a36" stroke-width="0.6"/>
<rect x="692.45" y="1286.5" width="6.95" height="23" fill="#ea2a24" stroke="#c9221d" stroke-width="0.6"/>
<rect x="699.4" y="1309.5" width="6.95" height="29.6" fill="#9673b5" stroke="#7d6196" stroke-width="0.6"/>
<rect x="713.29" y="1289.6" width="6.95" height="19.9" fill="#0a4f9e" stroke="#073d7c" stroke-width="0.6"/>
<rect x="720.24" y="1304" width="6.95" height="5.5" fill="#6cb33f" stroke="#5c9a36" stroke-width="0.6"/>
<rect x="727.19" y="1271.9" width="6.95" height="37.6" fill="#ea2a24" stroke="#c9221d" stroke-width="0.6"/>
<rect x="734.14" y="1309.5" width="6.95" height="23.9" fill="#9673b5" stroke="#7d6196" stroke-width="0.6"/>
<rect x="748.03" y="1294.9" width="6.95" height="14.6" fill="#0a4f9e" stroke="#073d7c" stroke-width="0.6"/>
<rect x="754.98" y="1284.3" width="6.95" height="25.2" fill="#6cb33f" stroke="#5c9a36" stroke-width="0.6"/>
<rect x="761.93" y="1275.9" width="6.95" height="33.6" fill="#ea2a24" stroke="#c9221d" stroke-width="0.6"/>
<rect x="768.88" y="1309.5" width="6.95" height="44.2" fill="#9673b5" stroke="#7d6196" stroke-width="0.6"/>
<rect x="782.77" y="1294.9" width="6.95" height="14.6" fill="#0a4f9e" stroke="#073d7c" stroke-width="0.6"/>
<rect x="789.72" y="1309.2" width="6.95" height="0.3" fill="#6cb33f" stroke="#5c9a36" stroke-width="0.6"/>
<rect x="796.67" y="1278.6" width="6.95" height="30.9" fill="#ea2a24" stroke="#c9221d" stroke-width="0.6"/>
<rect x="803.62" y="1309.5" width="6.95" height="16.4" fill="#9673b5" stroke="#7d6196" stroke-width="0.6"/>
<rect x="817.51" y="1291.8" width="6.95" height="17.7" fill="#0a4f9e" stroke="#073d7c" stroke-width="0.6"/>
<rect x="824.46" y="1297.1" width="6.95" height="12.4" fill="#6cb33f" stroke="#5c9a36" stroke-width="0.6"/>
<rect x="831.41" y="1275.9" width="6.95" height="33.6" fill="#ea2a24" stroke="#c9221d" stroke-width="0.6"/>
<rect x="838.36" y="1309.5" width="6.95" height="27.2" fill="#9673b5" stroke="#7d6196" stroke-width="0.6"/>
<rect x="852.25" y="1309.5" width="6.95" height="20.8" fill="#0a4f9e" stroke="#073d7c" stroke-width="0.6"/>
<rect x="859.2" y="1258" width="6.95" height="51.5" fill="#6cb33f" stroke="#5c9a36" stroke-width="0.6"/>
<rect x="866.15" y="1309.5" width="6.95" height="10.4" fill="#ea2a24" stroke="#c9221d" stroke-width="0.6"/>
<rect x="873.1" y="1309.5" width="6.95" height="62.1" fill="#9673b5" stroke="#7d6196" stroke-width="0.6"/>
<rect x="886.99" y="1306" width="6.95" height="3.5" fill="#0a4f9e" stroke="#073d7c" stroke-width="0.6"/>
<rect x="893.94" y="1263.8" width="6.95" height="45.7" fill="#6cb33f" stroke="#5c9a36" stroke-width="0.6"/>
<rect x="900.89" y="1292.5" width="6.95" height="17" fill="#ea2a24" stroke="#c9221d" stroke-width="0.6"/>
<rect x="907.84" y="1309.5" width="6.95" height="59" fill="#9673b5" stroke="#7d6196" stroke-width="0.6"/>
<rect x="921.73" y="1309.5" width="6.95" height="28.8" fill="#0a4f9e" stroke="#073d7c" stroke-width="0.6"/>
<rect x="928.68" y="1264" width="6.95" height="45.5" fill="#6cb33f" stroke="#5c9a36" stroke-width="0.6"/>
<rect x="935.63" y="1309.5" width="6.95" height="20.8" fill="#ea2a24" stroke="#c9221d" stroke-width="0.6"/>
<rect x="942.58" y="1309.5" width="6.95" height="53.9" fill="#9673b5" stroke="#7d6196" stroke-width="0.6"/>
<rect x="956.47" y="1304.9" width="6.95" height="4.6" fill="#0a4f9e" stroke="#073d7c" stroke-width="0.6"/>
<rect x="963.42" y="1303.8" width="6.95" height="5.7" fill="#6cb33f" stroke="#5c9a36" stroke-width="0.6"/>
<rect x="970.37" y="1291.9" width="6.95" height="17.6" fill="#ea2a24" stroke="#c9221d" stroke-width="0.6"/>
<rect x="977.32" y="1309.5" width="6.95" height="18" fill="#9673b5" stroke="#7d6196" stroke-width="0.6"/>
<rect x="991.21" y="1309.5" width="6.95" height="27.2" fill="#0a4f9e" stroke="#073d7c" stroke-width="0.6"/>
<rect x="998.16" y="1256.3" width="6.95" height="53.2" fill="#6cb33f" stroke="#5c9a36" stroke-width="0.6"/>
<rect x="1005.11" y="1309.5" width="6.95" height="18" fill="#ea2a24" stroke="#c9221d" stroke-width="0.6"/>
<rect x="1012.06" y="1309.5" width="6.95" height="62" fill="#9673b5" stroke="#7d6196" stroke-width="0.6"/>
<rect x="1025.95" y="1279.8" width="6.95" height="29.7" fill="#0a4f9e" stroke="#073d7c" stroke-width="0.6"/>
<rect x="1032.9" y="1293" width="6.95" height="16.5" fill="#6cb33f" stroke="#5c9a36" stroke-width="0.6"/>
<rect x="1039.85" y="1259.8" width="6.95" height="49.7" fill="#ea2a24" stroke="#c9221d" stroke-width="0.6"/>
<rect x="1046.8" y="1309.5" width="6.95" height="36" fill="#9673b5" stroke="#7d6196" stroke-width="0.6"/>
<rect x="1095.43" y="1309.5" width="6.95" height="22.2" fill="#0a4f9e" stroke="#073d7c" stroke-width="0.6"/>
<rect x="1102.38" y="1309.5" width="6.95" height="5.1" fill="#6cb33f" stroke="#5c9a36" stroke-width="0.6"/>
<rect x="1109.33" y="1309.5" width="6.95" height="12.6" fill="#ea2a24" stroke="#c9221d" stroke-width="0.6"/>
<rect x="1116.28" y="1309.5" width="6.95" height="5.1" fill="#9673b5" stroke="#7d6196" stroke-width="0.6"/>
<rect x="1130.17" y="1309.5" width="6.95" height="8.9" fill="#0a4f9e" stroke="#073d7c" stroke-width="0.6"/>
<rect x="1137.12" y="1283.1" width="6.95" height="26.4" fill="#6cb33f" stroke="#5c9a36" stroke-width="0.6"/>
<rect x="1144.07" y="1307.1" width="6.95" height="2.4" fill="#ea2a24" stroke="#c9221d" stroke-width="0.6"/>
<rect x="1151.02" y="1309.5" width="6.95" height="37.1" fill="#9673b5" stroke="#7d6196" stroke-width="0.6"/>
<rect x="1164.91" y="1309.5" width="6.95" height="19.2" fill="#0a4f9e" stroke="#073d7c" stroke-width="0.6"/>
<rect x="1171.86" y="1295" width="6.95" height="14.5" fill="#6cb33f" stroke="#5c9a36" stroke-width="0.6"/>
<rect x="1178.81" y="1309.5" width="6.95" height="10.3" fill="#ea2a24" stroke="#c9221d" stroke-width="0.6"/>
<rect x="1185.76" y="1309.5" width="6.95" height="23.6" fill="#9673b5" stroke="#7d6196" stroke-width="0.6"/>
<rect x="1199.65" y="1277" width="6.95" height="32.5" fill="#0a4f9e" stroke="#073d7c" stroke-width="0.6"/>
<rect x="1206.6" y="1262" width="6.95" height="47.5" fill="#6cb33f" stroke="#5c9a36" stroke-width="0.6"/>
<rect x="1213.55" y="1285" width="6.95" height="24.5" fill="#ea2a24" stroke="#c9221d" stroke-width="0.6"/>
<rect x="1220.5" y="1309.5" width="6.95" height="39.3" fill="#9673b5" stroke="#7d6196" stroke-width="0.6"/>
<rect x="1234.39" y="1309.5" width="6.95" height="2.9" fill="#0a4f9e" stroke="#073d7c" stroke-width="0.6"/>
<rect x="1241.34" y="1292.8" width="6.95" height="16.7" fill="#6cb33f" stroke="#5c9a36" stroke-width="0.6"/>
<rect x="1248.29" y="1300.8" width="6.95" height="8.7" fill="#ea2a24" stroke="#c9221d" stroke-width="0.6"/>
<rect x="1255.24" y="1309.5" width="6.95" height="28.8" fill="#9673b5" stroke="#7d6196" stroke-width="0.6"/>
<line x1="84.5" y1="1194.7" x2="84.5" y2="1386.5" stroke="#161616" stroke-width="2"/>
<line x1="74" y1="1194.7" x2="84.5" y2="1194.7" stroke="#161616" stroke-width="1.6"/>
<text x="70" y="1200.2" font-size="17.2" text-anchor="end" textLength="31.03" lengthAdjust="spacingAndGlyphs">1·50</text>
<line x1="74" y1="1232.7" x2="84.5" y2="1232.7" stroke="#161616" stroke-width="1.6"/>
<text x="70" y="1238.2" font-size="17.2" text-anchor="end" textLength="31.03" lengthAdjust="spacingAndGlyphs">1·00</text>
<line x1="74" y1="1271" x2="84.5" y2="1271" stroke="#161616" stroke-width="1.6"/>
<text x="70" y="1276.5" font-size="17.2" text-anchor="end" textLength="31.03" lengthAdjust="spacingAndGlyphs">0·50</text>
<line x1="74" y1="1309.5" x2="84.5" y2="1309.5" stroke="#161616" stroke-width="1.6"/>
<text x="70" y="1315" font-size="17.2" text-anchor="end" textLength="8.62" lengthAdjust="spacingAndGlyphs">0</text>
<line x1="74" y1="1347.5" x2="84.5" y2="1347.5" stroke="#161616" stroke-width="1.6"/>
<text x="70" y="1353" font-size="17.2" text-anchor="end" textLength="40.08" lengthAdjust="spacingAndGlyphs">−0·50</text>
<line x1="74" y1="1385.5" x2="84.5" y2="1385.5" stroke="#161616" stroke-width="1.6"/>
<text x="70" y="1391" font-size="17.2" text-anchor="end" textLength="40.08" lengthAdjust="spacingAndGlyphs">−1·00</text>
<line x1="83.5" y1="1385.5" x2="1267" y2="1385.5" stroke="#161616" stroke-width="2"/>
<line x1="84.5" y1="1385.5" x2="84.5" y2="1395" stroke="#161616" stroke-width="2.2"/>
<line x1="119.24" y1="1385.5" x2="119.24" y2="1395" stroke="#161616" stroke-width="2.2"/>
<line x1="153.98" y1="1385.5" x2="153.98" y2="1395" stroke="#161616" stroke-width="2.2"/>
<line x1="188.72" y1="1385.5" x2="188.72" y2="1395" stroke="#161616" stroke-width="2.2"/>
<line x1="223.46" y1="1385.5" x2="223.46" y2="1395" stroke="#161616" stroke-width="2.2"/>
<line x1="258.2" y1="1385.5" x2="258.2" y2="1395" stroke="#161616" stroke-width="2.2"/>
<line x1="292.94" y1="1385.5" x2="292.94" y2="1395" stroke="#161616" stroke-width="2.2"/>
<line x1="327.68" y1="1385.5" x2="327.68" y2="1395" stroke="#161616" stroke-width="2.2"/>
<line x1="362.42" y1="1385.5" x2="362.42" y2="1395" stroke="#161616" stroke-width="2.2"/>
<line x1="397.16" y1="1385.5" x2="397.16" y2="1395" stroke="#161616" stroke-width="2.2"/>
<line x1="431.9" y1="1385.5" x2="431.9" y2="1395" stroke="#161616" stroke-width="2.2"/>
<line x1="466.64" y1="1385.5" x2="466.64" y2="1395" stroke="#161616" stroke-width="2.2"/>
<line x1="501.38" y1="1385.5" x2="501.38" y2="1395" stroke="#161616" stroke-width="2.2"/>
<line x1="536.12" y1="1385.5" x2="536.12" y2="1395" stroke="#161616" stroke-width="2.2"/>
<line x1="570.86" y1="1385.5" x2="570.86" y2="1395" stroke="#161616" stroke-width="2.2"/>
<line x1="605.6" y1="1385.5" x2="605.6" y2="1395" stroke="#161616" stroke-width="2.2"/>
<line x1="640.34" y1="1385.5" x2="640.34" y2="1395" stroke="#161616" stroke-width="2.2"/>
<line x1="675.08" y1="1385.5" x2="675.08" y2="1395" stroke="#161616" stroke-width="2.2"/>
<line x1="709.82" y1="1385.5" x2="709.82" y2="1395" stroke="#161616" stroke-width="2.2"/>
<line x1="744.56" y1="1385.5" x2="744.56" y2="1395" stroke="#161616" stroke-width="2.2"/>
<line x1="779.3" y1="1385.5" x2="779.3" y2="1395" stroke="#161616" stroke-width="2.2"/>
<line x1="814.04" y1="1385.5" x2="814.04" y2="1395" stroke="#161616" stroke-width="2.2"/>
<line x1="848.78" y1="1385.5" x2="848.78" y2="1395" stroke="#161616" stroke-width="2.2"/>
<line x1="883.52" y1="1385.5" x2="883.52" y2="1395" stroke="#161616" stroke-width="2.2"/>
<line x1="918.26" y1="1385.5" x2="918.26" y2="1395" stroke="#161616" stroke-width="2.2"/>
<line x1="953" y1="1385.5" x2="953" y2="1395" stroke="#161616" stroke-width="2.2"/>
<line x1="987.74" y1="1385.5" x2="987.74" y2="1395" stroke="#161616" stroke-width="2.2"/>
<line x1="1022.48" y1="1385.5" x2="1022.48" y2="1395" stroke="#161616" stroke-width="2.2"/>
<line x1="1057.22" y1="1385.5" x2="1057.22" y2="1395" stroke="#161616" stroke-width="2.2"/>
<line x1="1091.96" y1="1385.5" x2="1091.96" y2="1395" stroke="#161616" stroke-width="2.2"/>
<line x1="1126.7" y1="1385.5" x2="1126.7" y2="1395" stroke="#161616" stroke-width="2.2"/>
<line x1="1161.44" y1="1385.5" x2="1161.44" y2="1395" stroke="#161616" stroke-width="2.2"/>
<line x1="1196.18" y1="1385.5" x2="1196.18" y2="1395" stroke="#161616" stroke-width="2.2"/>
<line x1="1230.92" y1="1385.5" x2="1230.92" y2="1395" stroke="#161616" stroke-width="2.2"/>
<line x1="1265.66" y1="1385.5" x2="1265.66" y2="1395" stroke="#161616" stroke-width="2.2"/>
<text x="69.3" y="1446" font-size="20" font-weight="bold" text-anchor="end">F</text>
<text x="82.5" y="1446" font-size="17.5" stroke="#1c1c1c" stroke-width="0.25">Intermediate scenario, 2081–100</text>
<text transform="translate(14,1563.35) rotate(-90)" font-size="17" text-anchor="middle">Mortality change ratio (%)</text>
<line x1="84.5" y1="1545.8" x2="1265" y2="1545.8" stroke="#3f5052" stroke-width="1.5" stroke-dasharray="4.3 3.8"/>
<rect x="87.97" y="1545.8" width="6.95" height="3.8" fill="#0a4f9e" stroke="#073d7c" stroke-width="0.6"/>
<rect x="94.92" y="1545.8" width="6.95" height="44" fill="#6cb33f" stroke="#5c9a36" stroke-width="0.6"/>
<rect x="101.87" y="1509.1" width="6.95" height="36.7" fill="#ea2a24" stroke="#c9221d" stroke-width="0.6"/>
<rect x="108.82" y="1544.3" width="6.95" height="1.5" fill="#9673b5" stroke="#7d6196" stroke-width="0.6"/>
<rect x="122.71" y="1545.8" width="6.95" height="35.8" fill="#0a4f9e" stroke="#073d7c" stroke-width="0.6"/>
<rect x="129.66" y="1545.8" width="6.95" height="67.8" fill="#6cb33f" stroke="#5c9a36" stroke-width="0.6"/>
<rect x="136.61" y="1545.8" width="6.95" height="8" fill="#ea2a24" stroke="#c9221d" stroke-width="0.6"/>
<rect x="143.56" y="1507.1" width="6.95" height="38.7" fill="#9673b5" stroke="#7d6196" stroke-width="0.6"/>
<rect x="157.45" y="1545.8" width="6.95" height="41.8" fill="#0a4f9e" stroke="#073d7c" stroke-width="0.6"/>
<rect x="164.4" y="1545.8" width="6.95" height="22.8" fill="#6cb33f" stroke="#5c9a36" stroke-width="0.6"/>
<rect x="171.35" y="1545.8" width="6.95" height="14.8" fill="#ea2a24" stroke="#c9221d" stroke-width="0.6"/>
<rect x="178.3" y="1545.8" width="6.95" height="4.9" fill="#9673b5" stroke="#7d6196" stroke-width="0.6"/>
<rect x="192.19" y="1545.8" width="6.95" height="0.9" fill="#0a4f9e" stroke="#073d7c" stroke-width="0.6"/>
<rect x="199.14" y="1545.8" width="6.95" height="44.2" fill="#6cb33f" stroke="#5c9a36" stroke-width="0.6"/>
<rect x="206.09" y="1505.1" width="6.95" height="40.7" fill="#ea2a24" stroke="#c9221d" stroke-width="0.6"/>
<rect x="213.04" y="1545.1" width="6.95" height="0.7" fill="#9673b5" stroke="#7d6196" stroke-width="0.6"/>
<rect x="226.93" y="1545.8" width="6.95" height="30.9" fill="#0a4f9e" stroke="#073d7c" stroke-width="0.6"/>
<rect x="233.88" y="1545.8" width="6.95" height="72.9" fill="#6cb33f" stroke="#5c9a36" stroke-width="0.6"/>
<rect x="240.83" y="1545.8" width="6.95" height="0.9" fill="#ea2a24" stroke="#c9221d" stroke-width="0.6"/>
<rect x="247.78" y="1505.1" width="6.95" height="40.7" fill="#9673b5" stroke="#7d6196" stroke-width="0.6"/>
<rect x="261.67" y="1545.8" width="6.95" height="0.4" fill="#0a4f9e" stroke="#073d7c" stroke-width="0.6"/>
<rect x="268.62" y="1545.8" width="6.95" height="14.8" fill="#6cb33f" stroke="#5c9a36" stroke-width="0.6"/>
<rect x="275.57" y="1504.3" width="6.95" height="41.5" fill="#ea2a24" stroke="#c9221d" stroke-width="0.6"/>
<rect x="282.52" y="1545.8" width="6.95" height="28.7" fill="#9673b5" stroke="#7d6196" stroke-width="0.6"/>
<rect x="296.41" y="1545.8" width="6.95" height="28.7" fill="#0a4f9e" stroke="#073d7c" stroke-width="0.6"/>
<rect x="303.36" y="1545.8" width="6.95" height="37.6" fill="#6cb33f" stroke="#5c9a36" stroke-width="0.6"/>
<rect x="310.31" y="1542.9" width="6.95" height="2.9" fill="#ea2a24" stroke="#c9221d" stroke-width="0.6"/>
<rect x="317.26" y="1541.4" width="6.95" height="4.4" fill="#9673b5" stroke="#7d6196" stroke-width="0.6"/>
<rect x="331.15" y="1545.8" width="6.95" height="37.6" fill="#0a4f9e" stroke="#073d7c" stroke-width="0.6"/>
<rect x="338.1" y="1545.8" width="6.95" height="52.4" fill="#6cb33f" stroke="#5c9a36" stroke-width="0.6"/>
<rect x="345.05" y="1545.8" width="6.95" height="8.8" fill="#ea2a24" stroke="#c9221d" stroke-width="0.6"/>
<rect x="352" y="1523" width="6.95" height="22.8" fill="#9673b5" stroke="#7d6196" stroke-width="0.6"/>
<rect x="365.89" y="1545.8" width="6.95" height="21.9" fill="#0a4f9e" stroke="#073d7c" stroke-width="0.6"/>
<rect x="372.84" y="1500.1" width="6.95" height="45.7" fill="#6cb33f" stroke="#5c9a36" stroke-width="0.6"/>
<rect x="379.79" y="1533" width="6.95" height="12.8" fill="#ea2a24" stroke="#c9221d" stroke-width="0.6"/>
<rect x="386.74" y="1545.8" width="6.95" height="80.7" fill="#9673b5" stroke="#7d6196" stroke-width="0.6"/>
<rect x="400.63" y="1545.8" width="6.95" height="2" fill="#0a4f9e" stroke="#073d7c" stroke-width="0.6"/>
<rect x="407.58" y="1529" width="6.95" height="16.8" fill="#6cb33f" stroke="#5c9a36" stroke-width="0.6"/>
<rect x="414.53" y="1506" width="6.95" height="39.8" fill="#ea2a24" stroke="#c9221d" stroke-width="0.6"/>
<rect x="421.48" y="1545.8" width="6.95" height="59.9" fill="#9673b5" stroke="#7d6196" stroke-width="0.6"/>
<rect x="435.37" y="1545.8" width="6.95" height="23.9" fill="#0a4f9e" stroke="#073d7c" stroke-width="0.6"/>
<rect x="442.32" y="1513.1" width="6.95" height="32.7" fill="#6cb33f" stroke="#5c9a36" stroke-width="0.6"/>
<rect x="449.27" y="1536.1" width="6.95" height="9.7" fill="#ea2a24" stroke="#c9221d" stroke-width="0.6"/>
<rect x="456.22" y="1545.8" width="6.95" height="66.7" fill="#9673b5" stroke="#7d6196" stroke-width="0.6"/>
<rect x="470.11" y="1545.8" width="6.95" height="7.1" fill="#0a4f9e" stroke="#073d7c" stroke-width="0.6"/>
<rect x="477.06" y="1481.9" width="6.95" height="63.9" fill="#6cb33f" stroke="#5c9a36" stroke-width="0.6"/>
<rect x="484.01" y="1515.1" width="6.95" height="30.7" fill="#ea2a24" stroke="#c9221d" stroke-width="0.6"/>
<rect x="490.96" y="1545.8" width="6.95" height="103.6" fill="#9673b5" stroke="#7d6196" stroke-width="0.6"/>
<rect x="504.85" y="1545.8" width="6.95" height="52.4" fill="#0a4f9e" stroke="#073d7c" stroke-width="0.6"/>
<rect x="511.8" y="1545.8" width="6.95" height="35.8" fill="#6cb33f" stroke="#5c9a36" stroke-width="0.6"/>
<rect x="518.75" y="1545.8" width="6.95" height="29.8" fill="#ea2a24" stroke="#c9221d" stroke-width="0.6"/>
<rect x="525.7" y="1533.9" width="6.95" height="11.9" fill="#9673b5" stroke="#7d6196" stroke-width="0.6"/>
<rect x="539.59" y="1545.8" width="6.95" height="57" fill="#0a4f9e" stroke="#073d7c" stroke-width="0.6"/>
<rect x="546.54" y="1545.8" width="6.95" height="28.1" fill="#6cb33f" stroke="#5c9a36" stroke-width="0.6"/>
<rect x="553.49" y="1545.8" width="6.95" height="36" fill="#ea2a24" stroke="#c9221d" stroke-width="0.6"/>
<rect x="560.44" y="1540.7" width="6.95" height="5.1" fill="#9673b5" stroke="#7d6196" stroke-width="0.6"/>
<rect x="574.33" y="1545.8" width="6.95" height="28.9" fill="#0a4f9e" stroke="#073d7c" stroke-width="0.6"/>
<rect x="581.28" y="1545.8" width="6.95" height="2" fill="#6cb33f" stroke="#5c9a36" stroke-width="0.6"/>
<rect x="588.23" y="1543.1" width="6.95" height="2.7" fill="#ea2a24" stroke="#c9221d" stroke-width="0.6"/>
<rect x="595.18" y="1545.8" width="6.95" height="30.7" fill="#9673b5" stroke="#7d6196" stroke-width="0.6"/>
<rect x="609.07" y="1545.8" width="6.95" height="46.4" fill="#0a4f9e" stroke="#073d7c" stroke-width="0.6"/>
<rect x="616.02" y="1545.8" width="6.95" height="27" fill="#6cb33f" stroke="#5c9a36" stroke-width="0.6"/>
<rect x="622.97" y="1545.8" width="6.95" height="21.9" fill="#ea2a24" stroke="#c9221d" stroke-width="0.6"/>
<rect x="629.92" y="1545.1" width="6.95" height="0.7" fill="#9673b5" stroke="#7d6196" stroke-width="0.6"/>
<rect x="643.81" y="1545.8" width="6.95" height="2.2" fill="#0a4f9e" stroke="#073d7c" stroke-width="0.6"/>
<rect x="650.76" y="1545.8" width="6.95" height="39.1" fill="#6cb33f" stroke="#5c9a36" stroke-width="0.6"/>
<rect x="657.71" y="1506.9" width="6.95" height="38.9" fill="#ea2a24" stroke="#c9221d" stroke-width="0.6"/>
<rect x="664.66" y="1545.8" width="6.95" height="3.8" fill="#9673b5" stroke="#7d6196" stroke-width="0.6"/>
<rect x="678.55" y="1545.8" width="6.95" height="13" fill="#0a4f9e" stroke="#073d7c" stroke-width="0.6"/>
<rect x="685.5" y="1545.8" width="6.95" height="25.9" fill="#6cb33f" stroke="#5c9a36" stroke-width="0.6"/>
<rect x="692.45" y="1521" width="6.95" height="24.8" fill="#ea2a24" stroke="#c9221d" stroke-width="0.6"/>
<rect x="699.4" y="1545.8" width="6.95" height="13" fill="#9673b5" stroke="#7d6196" stroke-width="0.6"/>
<rect x="713.29" y="1545.8" width="6.95" height="8.8" fill="#0a4f9e" stroke="#073d7c" stroke-width="0.6"/>
<rect x="720.24" y="1545.8" width="6.95" height="9.3" fill="#6cb33f" stroke="#5c9a36" stroke-width="0.6"/>
<rect x="727.19" y="1515.1" width="6.95" height="30.7" fill="#ea2a24" stroke="#c9221d" stroke-width="0.6"/>
<rect x="734.14" y="1545.8" width="6.95" height="30.9" fill="#9673b5" stroke="#7d6196" stroke-width="0.6"/>
<rect x="748.03" y="1525" width="6.95" height="20.8" fill="#0a4f9e" stroke="#073d7c" stroke-width="0.6"/>
<rect x="754.98" y="1545.8" width="6.95" height="16.1" fill="#6cb33f" stroke="#5c9a36" stroke-width="0.6"/>
<rect x="761.93" y="1475.1" width="6.95" height="70.7" fill="#ea2a24" stroke="#c9221d" stroke-width="0.6"/>
<rect x="768.88" y="1545.8" width="6.95" height="34.7" fill="#9673b5" stroke="#7d6196" stroke-width="0.6"/>
<rect x="782.77" y="1545.8" width="6.95" height="15.2" fill="#0a4f9e" stroke="#073d7c" stroke-width="0.6"/>
<rect x="789.72" y="1545.8" width="6.95" height="15" fill="#6cb33f" stroke="#5c9a36" stroke-width="0.6"/>
<rect x="796.67" y="1523.9" width="6.95" height="21.9" fill="#ea2a24" stroke="#c9221d" stroke-width="0.6"/>
<rect x="803.62" y="1545.8" width="6.95" height="23" fill="#9673b5" stroke="#7d6196" stroke-width="0.6"/>
<rect x="817.51" y="1545.8" width="6.95" height="11.9" fill="#0a4f9e" stroke="#073d7c" stroke-width="0.6"/>
<rect x="824.46" y="1545.8" width="6.95" height="11.9" fill="#6cb33f" stroke="#5c9a36" stroke-width="0.6"/>
<rect x="831.41" y="1519.7" width="6.95" height="26.1" fill="#ea2a24" stroke="#c9221d" stroke-width="0.6"/>
<rect x="838.36" y="1545.8" width="6.95" height="28.1" fill="#9673b5" stroke="#7d6196" stroke-width="0.6"/>
<rect x="852.25" y="1545.8" width="6.95" height="59" fill="#0a4f9e" stroke="#073d7c" stroke-width="0.6"/>
<rect x="859.2" y="1545.8" width="6.95" height="54.6" fill="#6cb33f" stroke="#5c9a36" stroke-width="0.6"/>
<rect x="866.15" y="1545.8" width="6.95" height="37.8" fill="#ea2a24" stroke="#c9221d" stroke-width="0.6"/>
<rect x="873.1" y="1513.8" width="6.95" height="32" fill="#9673b5" stroke="#7d6196" stroke-width="0.6"/>
<rect x="886.99" y="1529" width="6.95" height="16.8" fill="#0a4f9e" stroke="#073d7c" stroke-width="0.6"/>
<rect x="893.94" y="1545.8" width="6.95" height="27" fill="#6cb33f" stroke="#5c9a36" stroke-width="0.6"/>
<rect x="900.89" y="1481" width="6.95" height="64.8" fill="#ea2a24" stroke="#c9221d" stroke-width="0.6"/>
<rect x="907.84" y="1545.8" width="6.95" height="23" fill="#9673b5" stroke="#7d6196" stroke-width="0.6"/>
<rect x="921.73" y="1530.2" width="6.95" height="15.6" fill="#0a4f9e" stroke="#073d7c" stroke-width="0.6"/>
<rect x="928.68" y="1545.8" width="6.95" height="62.8" fill="#6cb33f" stroke="#5c9a36" stroke-width="0.6"/>
<rect x="935.63" y="1482.7" width="6.95" height="63.1" fill="#ea2a24" stroke="#c9221d" stroke-width="0.6"/>
<rect x="942.58" y="1531.8" width="6.95" height="14" fill="#9673b5" stroke="#7d6196" stroke-width="0.6"/>
<rect x="956.47" y="1545.8" width="6.95" height="9" fill="#0a4f9e" stroke="#073d7c" stroke-width="0.6"/>
<rect x="963.42" y="1545.8" width="6.95" height="25.9" fill="#6cb33f" stroke="#5c9a36" stroke-width="0.6"/>
<rect x="970.37" y="1515.8" width="6.95" height="30" fill="#ea2a24" stroke="#c9221d" stroke-width="0.6"/>
<rect x="977.32" y="1545.8" width="6.95" height="15" fill="#9673b5" stroke="#7d6196" stroke-width="0.6"/>
<rect x="991.21" y="1537.1" width="6.95" height="8.7" fill="#0a4f9e" stroke="#073d7c" stroke-width="0.6"/>
<rect x="998.16" y="1545.8" width="6.95" height="62" fill="#6cb33f" stroke="#5c9a36" stroke-width="0.6"/>
<rect x="1005.11" y="1491.5" width="6.95" height="54.3" fill="#ea2a24" stroke="#c9221d" stroke-width="0.6"/>
<rect x="1012.06" y="1531" width="6.95" height="14.8" fill="#9673b5" stroke="#7d6196" stroke-width="0.6"/>
<rect x="1025.95" y="1538.2" width="6.95" height="7.6" fill="#0a4f9e" stroke="#073d7c" stroke-width="0.6"/>
<rect x="1032.9" y="1544.3" width="6.95" height="1.5" fill="#6cb33f" stroke="#5c9a36" stroke-width="0.6"/>
<rect x="1039.85" y="1492.9" width="6.95" height="52.9" fill="#ea2a24" stroke="#c9221d" stroke-width="0.6"/>
<rect x="1046.8" y="1545.8" width="6.95" height="47.9" fill="#9673b5" stroke="#7d6196" stroke-width="0.6"/>
<rect x="1095.43" y="1545.8" width="6.95" height="49" fill="#0a4f9e" stroke="#073d7c" stroke-width="0.6"/>
<rect x="1102.38" y="1545.8" width="6.95" height="55.9" fill="#6cb33f" stroke="#5c9a36" stroke-width="0.6"/>
<rect x="1109.33" y="1545.8" width="6.95" height="23.8" fill="#ea2a24" stroke="#c9221d" stroke-width="0.6"/>
<rect x="1116.28" y="1516.1" width="6.95" height="29.7" fill="#9673b5" stroke="#7d6196" stroke-width="0.6"/>
<rect x="1130.17" y="1545.8" width="6.95" height="27.7" fill="#0a4f9e" stroke="#073d7c" stroke-width="0.6"/>
<rect x="1137.12" y="1545.8" width="6.95" height="40.7" fill="#6cb33f" stroke="#5c9a36" stroke-width="0.6"/>
<rect x="1144.07" y="1541.8" width="6.95" height="4" fill="#ea2a24" stroke="#c9221d" stroke-width="0.6"/>
<rect x="1151.02" y="1539" width="6.95" height="6.8" fill="#9673b5" stroke="#7d6196" stroke-width="0.6"/>
<rect x="1164.91" y="1545.8" width="6.95" height="43.8" fill="#0a4f9e" stroke="#073d7c" stroke-width="0.6"/>
<rect x="1171.86" y="1545.8" width="6.95" height="51.8" fill="#6cb33f" stroke="#5c9a36" stroke-width="0.6"/>
<rect x="1178.81" y="1545.8" width="6.95" height="17.8" fill="#ea2a24" stroke="#c9221d" stroke-width="0.6"/>
<rect x="1185.76" y="1521.1" width="6.95" height="24.7" fill="#9673b5" stroke="#7d6196" stroke-width="0.6"/>
<rect x="1199.65" y="1545.8" width="6.95" height="12.8" fill="#0a4f9e" stroke="#073d7c" stroke-width="0.6"/>
<rect x="1206.6" y="1513.1" width="6.95" height="32.7" fill="#6cb33f" stroke="#5c9a36" stroke-width="0.6"/>
<rect x="1213.55" y="1545.8" width="6.95" height="2.6" fill="#ea2a24" stroke="#c9221d" stroke-width="0.6"/>
<rect x="1220.5" y="1545.8" width="6.95" height="43.2" fill="#9673b5" stroke="#7d6196" stroke-width="0.6"/>
<rect x="1234.39" y="1545.8" width="6.95" height="36" fill="#0a4f9e" stroke="#073d7c" stroke-width="0.6"/>
<rect x="1241.34" y="1545.8" width="6.95" height="34.6" fill="#6cb33f" stroke="#5c9a36" stroke-width="0.6"/>
<rect x="1248.29" y="1545.8" width="6.95" height="7" fill="#ea2a24" stroke="#c9221d" stroke-width="0.6"/>
<rect x="1255.24" y="1542.1" width="6.95" height="3.7" fill="#9673b5" stroke="#7d6196" stroke-width="0.6"/>
<line x1="84.5" y1="1467.8" x2="84.5" y2="1659.9" stroke="#161616" stroke-width="2"/>
<line x1="74" y1="1488.4" x2="84.5" y2="1488.4" stroke="#161616" stroke-width="1.6"/>
<text x="70" y="1493.9" font-size="17.2" text-anchor="end" textLength="31.03" lengthAdjust="spacingAndGlyphs">0·50</text>
<line x1="74" y1="1517.1" x2="84.5" y2="1517.1" stroke="#161616" stroke-width="1.6"/>
<text x="70" y="1522.6" font-size="17.2" text-anchor="end" textLength="31.03" lengthAdjust="spacingAndGlyphs">0·25</text>
<line x1="74" y1="1545.8" x2="84.5" y2="1545.8" stroke="#161616" stroke-width="1.6"/>
<text x="70" y="1551.3" font-size="17.2" text-anchor="end" textLength="8.62" lengthAdjust="spacingAndGlyphs">0</text>
<line x1="74" y1="1574.5" x2="84.5" y2="1574.5" stroke="#161616" stroke-width="1.6"/>
<text x="70" y="1580" font-size="17.2" text-anchor="end" textLength="40.08" lengthAdjust="spacingAndGlyphs">−0·25</text>
<line x1="74" y1="1603.7" x2="84.5" y2="1603.7" stroke="#161616" stroke-width="1.6"/>
<text x="70" y="1609.2" font-size="17.2" text-anchor="end" textLength="40.08" lengthAdjust="spacingAndGlyphs">−0·50</text>
<line x1="74" y1="1632.7" x2="84.5" y2="1632.7" stroke="#161616" stroke-width="1.6"/>
<text x="70" y="1638.2" font-size="17.2" text-anchor="end" textLength="40.08" lengthAdjust="spacingAndGlyphs">−0·75</text>
<line x1="83.5" y1="1658.9" x2="1267" y2="1658.9" stroke="#161616" stroke-width="2"/>
<line x1="84.5" y1="1658.9" x2="84.5" y2="1668.4" stroke="#161616" stroke-width="2.2"/>
<line x1="119.24" y1="1658.9" x2="119.24" y2="1668.4" stroke="#161616" stroke-width="2.2"/>
<line x1="153.98" y1="1658.9" x2="153.98" y2="1668.4" stroke="#161616" stroke-width="2.2"/>
<line x1="188.72" y1="1658.9" x2="188.72" y2="1668.4" stroke="#161616" stroke-width="2.2"/>
<line x1="223.46" y1="1658.9" x2="223.46" y2="1668.4" stroke="#161616" stroke-width="2.2"/>
<line x1="258.2" y1="1658.9" x2="258.2" y2="1668.4" stroke="#161616" stroke-width="2.2"/>
<line x1="292.94" y1="1658.9" x2="292.94" y2="1668.4" stroke="#161616" stroke-width="2.2"/>
<line x1="327.68" y1="1658.9" x2="327.68" y2="1668.4" stroke="#161616" stroke-width="2.2"/>
<line x1="362.42" y1="1658.9" x2="362.42" y2="1668.4" stroke="#161616" stroke-width="2.2"/>
<line x1="397.16" y1="1658.9" x2="397.16" y2="1668.4" stroke="#161616" stroke-width="2.2"/>
<line x1="431.9" y1="1658.9" x2="431.9" y2="1668.4" stroke="#161616" stroke-width="2.2"/>
<line x1="466.64" y1="1658.9" x2="466.64" y2="1668.4" stroke="#161616" stroke-width="2.2"/>
<line x1="501.38" y1="1658.9" x2="501.38" y2="1668.4" stroke="#161616" stroke-width="2.2"/>
<line x1="536.12" y1="1658.9" x2="536.12" y2="1668.4" stroke="#161616" stroke-width="2.2"/>
<line x1="570.86" y1="1658.9" x2="570.86" y2="1668.4" stroke="#161616" stroke-width="2.2"/>
<line x1="605.6" y1="1658.9" x2="605.6" y2="1668.4" stroke="#161616" stroke-width="2.2"/>
<line x1="640.34" y1="1658.9" x2="640.34" y2="1668.4" stroke="#161616" stroke-width="2.2"/>
<line x1="675.08" y1="1658.9" x2="675.08" y2="1668.4" stroke="#161616" stroke-width="2.2"/>
<line x1="709.82" y1="1658.9" x2="709.82" y2="1668.4" stroke="#161616" stroke-width="2.2"/>
<line x1="744.56" y1="1658.9" x2="744.56" y2="1668.4" stroke="#161616" stroke-width="2.2"/>
<line x1="779.3" y1="1658.9" x2="779.3" y2="1668.4" stroke="#161616" stroke-width="2.2"/>
<line x1="814.04" y1="1658.9" x2="814.04" y2="1668.4" stroke="#161616" stroke-width="2.2"/>
<line x1="848.78" y1="1658.9" x2="848.78" y2="1668.4" stroke="#161616" stroke-width="2.2"/>
<line x1="883.52" y1="1658.9" x2="883.52" y2="1668.4" stroke="#161616" stroke-width="2.2"/>
<line x1="918.26" y1="1658.9" x2="918.26" y2="1668.4" stroke="#161616" stroke-width="2.2"/>
<line x1="953" y1="1658.9" x2="953" y2="1668.4" stroke="#161616" stroke-width="2.2"/>
<line x1="987.74" y1="1658.9" x2="987.74" y2="1668.4" stroke="#161616" stroke-width="2.2"/>
<line x1="1022.48" y1="1658.9" x2="1022.48" y2="1668.4" stroke="#161616" stroke-width="2.2"/>
<line x1="1057.22" y1="1658.9" x2="1057.22" y2="1668.4" stroke="#161616" stroke-width="2.2"/>
<line x1="1091.96" y1="1658.9" x2="1091.96" y2="1668.4" stroke="#161616" stroke-width="2.2"/>
<line x1="1126.7" y1="1658.9" x2="1126.7" y2="1668.4" stroke="#161616" stroke-width="2.2"/>
<line x1="1161.44" y1="1658.9" x2="1161.44" y2="1668.4" stroke="#161616" stroke-width="2.2"/>
<line x1="1196.18" y1="1658.9" x2="1196.18" y2="1668.4" stroke="#161616" stroke-width="2.2"/>
<line x1="1230.92" y1="1658.9" x2="1230.92" y2="1668.4" stroke="#161616" stroke-width="2.2"/>
<line x1="1265.66" y1="1658.9" x2="1265.66" y2="1668.4" stroke="#161616" stroke-width="2.2"/>
<rect x="1082" y="100.1" width="21" height="12" fill="#0a4f9e" stroke="#111" stroke-width="1.6"/>
<text x="1108.5" y="111.2" font-size="16.8">Total change</text>
<rect x="1082" y="122.55" width="21" height="12" fill="#6cb33f" stroke="#111" stroke-width="1.6"/>
<text x="1108.5" y="133.65" font-size="16.8">Population</text>
<rect x="1082" y="145" width="21" height="12" fill="#ea2a24" stroke="#111" stroke-width="1.6"/>
<text x="1108.5" y="156.1" font-size="16.8">Concentration</text>
<rect x="1082" y="167.45" width="21" height="12" fill="#9673b5" stroke="#111" stroke-width="1.6"/>
<text x="1108.5" y="178.55" font-size="16.8">Interaction</text>
<text transform="translate(104.87,1683) rotate(-45)" font-size="16.8" text-anchor="end">Zhejiang</text>
<text transform="translate(139.61,1683) rotate(-45)" font-size="16.8" text-anchor="end">Taiwan</text>
<text transform="translate(174.35,1683) rotate(-45)" font-size="16.8" text-anchor="end">Shandong</text>
<text transform="translate(209.09,1683) rotate(-45)" font-size="16.8" text-anchor="end">Jiangxi</text>
<text transform="translate(243.83,1683) rotate(-45)" font-size="16.8" text-anchor="end">Fujian</text>
<text transform="translate(278.57,1683) rotate(-45)" font-size="16.8" text-anchor="end">Anhui</text>
<text transform="translate(313.31,1683) rotate(-45)" font-size="16.8" text-anchor="end">Jiangsu</text>
<text transform="translate(348.05,1683) rotate(-45)" font-size="16.8" text-anchor="end">Shanghai</text>
<text transform="translate(382.79,1683) rotate(-45)" font-size="16.8" text-anchor="end">Beijing</text>
<text transform="translate(417.53,1683) rotate(-45)" font-size="16.8" text-anchor="end">Shanxi</text>
<text transform="translate(452.27,1683) rotate(-45)" font-size="16.8" text-anchor="end">Hebei</text>
<text transform="translate(487.01,1683) rotate(-45)" font-size="16.8" text-anchor="end">Tianjin</text>
<text transform="translate(521.75,1683) rotate(-45)" font-size="16.8" text-anchor="end">Jilin</text>
<text transform="translate(556.49,1683) rotate(-45)" font-size="16.8" text-anchor="end">Liaoning</text>
<text transform="translate(591.23,1683) rotate(-45)" font-size="16.8" text-anchor="end">Inner Mongolia</text>
<text transform="translate(625.97,1683) rotate(-45)" font-size="16.8" text-anchor="end">Heilongjiang</text>
<text transform="translate(660.71,1683) rotate(-45)" font-size="16.8" text-anchor="end">Gansu</text>
<text transform="translate(695.45,1683) rotate(-45)" font-size="16.8" text-anchor="end">Xinjiang</text>
<text transform="translate(730.19,1683) rotate(-45)" font-size="16.8" text-anchor="end">Ningxia</text>
<text transform="translate(764.93,1683) rotate(-45)" font-size="16.8" text-anchor="end">Qinghai</text>
<text transform="translate(799.67,1683) rotate(-45)" font-size="16.8" text-anchor="end">Shaanxi</text>
<text transform="translate(834.41,1683) rotate(-45)" font-size="16.8" text-anchor="end">Hubei</text>
<text transform="translate(869.15,1683) rotate(-45)" font-size="16.8" text-anchor="end">Hainan</text>
<text transform="translate(903.89,1683) rotate(-45)" font-size="16.8" text-anchor="end">Guanxi</text>
<text transform="translate(938.63,1683) rotate(-45)" font-size="16.8" text-anchor="end">Guangdong</text>
<text transform="translate(973.37,1683) rotate(-45)" font-size="16.8" text-anchor="end">Hunan</text>
<text transform="translate(1008.11,1683) rotate(-45)" font-size="16.8" text-anchor="end">Hong Kong</text>
<text transform="translate(1042.85,1683) rotate(-45)" font-size="16.8" text-anchor="end">Henan</text>
<text transform="translate(1077.59,1683) rotate(-45)" font-size="16.8" text-anchor="end">Macao</text>
<text transform="translate(1112.33,1683) rotate(-45)" font-size="16.8" text-anchor="end">Sichuan</text>
<text transform="translate(1147.07,1683) rotate(-45)" font-size="16.8" text-anchor="end">Guizhou</text>
<text transform="translate(1181.81,1683) rotate(-45)" font-size="16.8" text-anchor="end">Yunnan</text>
<text transform="translate(1216.55,1683) rotate(-45)" font-size="16.8" text-anchor="end">Tibet</text>
<text transform="translate(1251.29,1683) rotate(-45)" font-size="16.8" text-anchor="end">Chongqing</text>
<text x="671.5" y="1776" font-size="15.7" text-anchor="middle">Province</text>
</svg></body></html>
